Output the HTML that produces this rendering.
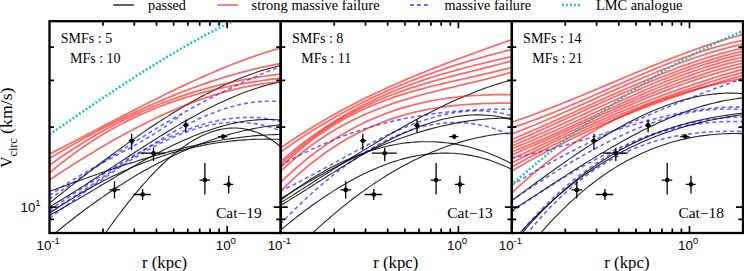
<!DOCTYPE html><html><head><meta charset="utf-8"><style>html,body{margin:0;padding:0;background:#fff;width:744px;height:271px;overflow:hidden}svg{display:block}</style></head><body>
<svg width="744" height="271" viewBox="0 0 744 271">
<rect width="744" height="271" fill="#fff"/>
<clipPath id="c0"><rect x="49.5" y="21.2" width="231.2" height="211.8"/></clipPath>
<clipPath id="c1"><rect x="280.7" y="21.2" width="231.2" height="211.8"/></clipPath>
<clipPath id="c2"><rect x="511.8" y="21.2" width="231.2" height="211.8"/></clipPath>
<g clip-path="url(#c0)">
<path d="M49.5 203.0 L52.5 200.6 L55.5 198.2 L58.5 195.9 L61.5 193.5 L64.5 191.1 L67.5 188.8 L70.5 186.4 L73.5 184.1 L76.5 181.7 L79.5 179.4 L82.5 177.0 L85.5 174.7 L88.5 172.4 L91.5 170.1 L94.5 167.8 L97.5 165.5 L100.5 163.3 L103.5 161.0 L106.5 158.8 L109.5 156.5 L112.5 154.3 L115.5 152.1 L118.5 149.9 L121.5 147.7 L124.5 145.6 L127.5 143.4 L130.5 141.3 L133.5 139.2 L136.5 137.1 L139.5 135.0 L142.5 132.9 L145.5 130.9 L148.5 128.8 L151.5 126.8 L154.5 124.8 L157.5 122.8 L160.5 120.9 L163.5 119.0 L166.5 117.1 L169.5 115.2 L172.5 113.3 L175.5 111.5 L178.5 109.7 L181.5 107.9 L184.5 106.1 L187.5 104.4 L190.5 102.6 L193.5 100.9 L196.5 99.3 L199.5 97.6 L202.5 96.0 L205.5 94.5 L208.5 92.9 L211.5 91.4 L214.5 89.9 L217.5 88.4 L220.5 87.0 L223.5 85.6 L226.5 84.2 L229.5 82.9 L232.5 81.6 L235.5 80.3 L238.5 79.1 L241.5 77.8 L244.5 76.7 L247.5 75.5 L250.5 74.4 L253.5 73.4 L256.5 72.3 L259.5 71.3 L262.5 70.4 L265.5 69.5 L268.5 68.6 L271.5 67.8 L274.5 67.0 L277.5 66.2 L280.5 65.5 L282.0 65.1" stroke="#000" stroke-width="1.1" fill="none" stroke-opacity="0.85"/>
<path d="M49.5 206.9 L52.5 205.1 L55.5 203.3 L58.5 201.5 L61.5 199.7 L64.5 197.9 L67.5 196.0 L70.5 194.2 L73.5 192.3 L76.5 190.4 L79.5 188.5 L82.5 186.6 L85.5 184.6 L88.5 182.7 L91.5 180.8 L94.5 178.8 L97.5 176.9 L100.5 174.9 L103.5 173.0 L106.5 171.0 L109.5 169.0 L112.5 167.1 L115.5 165.1 L118.5 163.1 L121.5 161.1 L124.5 159.2 L127.5 157.2 L130.5 155.2 L133.5 153.3 L136.5 151.3 L139.5 149.4 L142.5 147.5 L145.5 145.5 L148.5 143.6 L151.5 141.7 L154.5 139.8 L157.5 137.9 L160.5 136.0 L163.5 134.2 L166.5 132.3 L169.5 130.5 L172.5 128.7 L175.5 126.9 L178.5 125.1 L181.5 123.3 L184.5 121.6 L187.5 119.9 L190.5 118.2 L193.5 116.5 L196.5 114.9 L199.5 113.2 L202.5 111.6 L205.5 110.1 L208.5 108.5 L211.5 107.0 L214.5 105.5 L217.5 104.0 L220.5 102.6 L223.5 101.2 L226.5 99.9 L229.5 98.5 L232.5 97.2 L235.5 96.0 L238.5 94.7 L241.5 93.6 L244.5 92.4 L247.5 91.3 L250.5 90.2 L253.5 89.2 L256.5 88.2 L259.5 87.3 L262.5 86.4 L265.5 85.5 L268.5 84.7 L271.5 83.9 L274.5 83.2 L277.5 82.5 L280.5 81.9 L282.0 81.6" stroke="#000" stroke-width="1.1" fill="none" stroke-opacity="0.85"/>
<path d="M49.5 191.3 L52.5 190.2 L55.5 189.2 L58.5 188.1 L61.5 187.0 L64.5 185.9 L67.5 184.8 L70.5 183.7 L73.5 182.6 L76.5 181.6 L79.5 180.5 L82.5 179.4 L85.5 178.4 L88.5 177.3 L91.5 176.3 L94.5 175.2 L97.5 174.2 L100.5 173.1 L103.5 172.1 L106.5 171.1 L109.5 170.0 L112.5 169.0 L115.5 168.0 L118.5 167.0 L121.5 166.0 L124.5 165.1 L127.5 164.1 L130.5 163.1 L133.5 162.2 L136.5 161.2 L139.5 160.3 L142.5 159.4 L145.5 158.5 L148.5 157.6 L151.5 156.7 L154.5 155.8 L157.5 155.0 L160.5 154.1 L163.5 153.3 L166.5 152.5 L169.5 151.6 L172.5 150.9 L175.5 150.1 L178.5 149.3 L181.5 148.6 L184.5 147.8 L187.5 147.1 L190.5 146.4 L193.5 145.7 L196.5 145.0 L199.5 144.4 L202.5 143.7 L205.5 143.1 L208.5 142.5 L211.5 141.9 L214.5 141.4 L217.5 140.8 L220.5 140.3 L223.5 139.8 L226.5 139.3 L229.5 138.9 L232.5 138.4 L235.5 138.0 L238.5 137.6 L241.5 137.2 L244.5 136.9 L247.5 136.5 L250.5 136.2 L253.5 135.9 L256.5 135.6 L259.5 135.4 L262.5 135.2 L265.5 135.0 L268.5 134.8 L271.5 134.7 L274.5 134.6 L277.5 134.5 L280.5 134.4 L282.0 134.4" stroke="#000" stroke-width="1.1" fill="none" stroke-opacity="0.85"/>
<path d="M49.5 213.4 L52.5 211.3 L55.5 209.3 L58.5 207.3 L61.5 205.3 L64.5 203.4 L67.5 201.5 L70.5 199.6 L73.5 197.7 L76.5 195.9 L79.5 194.1 L82.5 192.4 L85.5 190.6 L88.5 188.9 L91.5 187.2 L94.5 185.6 L97.5 184.0 L100.5 182.4 L103.5 180.8 L106.5 179.3 L109.5 177.8 L112.5 176.3 L115.5 174.9 L118.5 173.5 L121.5 172.1 L124.5 170.7 L127.5 169.4 L130.5 168.1 L133.5 166.8 L136.5 165.6 L139.5 164.4 L142.5 163.2 L145.5 162.0 L148.5 160.9 L151.5 159.8 L154.5 158.7 L157.5 157.7 L160.5 156.7 L163.5 155.7 L166.5 154.7 L169.5 153.8 L172.5 152.9 L175.5 152.0 L178.5 151.2 L181.5 150.4 L184.5 149.6 L187.5 148.8 L190.5 148.1 L193.5 147.4 L196.5 146.7 L199.5 146.1 L202.5 145.5 L205.5 144.9 L208.5 144.3 L211.5 143.8 L214.5 143.3 L217.5 142.8 L220.5 142.4 L223.5 142.0 L226.5 141.6 L229.5 141.2 L232.5 140.9 L235.5 140.6 L238.5 140.3 L241.5 140.1 L244.5 139.9 L247.5 139.7 L250.5 139.5 L253.5 139.4 L256.5 139.3 L259.5 139.2 L262.5 139.2 L265.5 139.1 L268.5 139.1 L271.5 139.2 L274.5 139.2 L277.5 139.3 L280.5 139.5 L282.0 139.5" stroke="#000" stroke-width="1.1" fill="none" stroke-opacity="0.85"/>
<path d="M49.5 215.4 L52.5 213.7 L55.5 212.1 L58.5 210.4 L61.5 208.7 L64.5 207.0 L67.5 205.3 L70.5 203.6 L73.5 201.8 L76.5 200.1 L79.5 198.3 L82.5 196.5 L85.5 194.8 L88.5 193.0 L91.5 191.2 L94.5 189.4 L97.5 187.6 L100.5 185.8 L103.5 184.0 L106.5 182.3 L109.5 180.5 L112.5 178.7 L115.5 176.9 L118.5 175.1 L121.5 173.4 L124.5 171.6 L127.5 169.9 L130.5 168.1 L133.5 166.4 L136.5 164.7 L139.5 163.0 L142.5 161.3 L145.5 159.6 L148.5 158.0 L151.5 156.4 L154.5 154.8 L157.5 153.2 L160.5 151.6 L163.5 150.0 L166.5 148.5 L169.5 147.0 L172.5 145.6 L175.5 144.1 L178.5 142.7 L181.5 141.3 L184.5 140.0 L187.5 138.7 L190.5 137.4 L193.5 136.1 L196.5 134.9 L199.5 133.7 L202.5 132.6 L205.5 131.5 L208.5 130.4 L211.5 129.4 L214.5 128.4 L217.5 127.5 L220.5 126.6 L223.5 125.8 L226.5 125.0 L229.5 124.2 L232.5 123.5 L235.5 122.9 L238.5 122.3 L241.5 121.8 L244.5 121.3 L247.5 120.8 L250.5 120.5 L253.5 120.2 L256.5 119.9 L259.5 119.7 L262.5 119.6 L265.5 119.5 L268.5 119.5 L271.5 119.5 L274.5 119.7 L277.5 119.8 L280.5 120.1 L282.0 120.2" stroke="#000" stroke-width="1.1" fill="none" stroke-opacity="0.85"/>
<path d="M54.5 233.6 L57.5 231.1 L60.5 228.7 L63.5 226.3 L66.5 223.9 L69.5 221.5 L72.5 219.2 L75.5 216.8 L78.5 214.5 L81.5 212.3 L84.5 210.0 L87.5 207.8 L90.5 205.6 L93.5 203.5 L96.5 201.3 L99.5 199.2 L102.5 197.1 L105.5 195.0 L108.5 193.0 L111.5 191.0 L114.5 189.0 L117.5 187.0 L120.5 185.1 L123.5 183.2 L126.5 181.3 L129.5 179.5 L132.5 177.6 L135.5 175.8 L138.5 174.1 L141.5 172.3 L144.5 170.6 L147.5 168.9 L150.5 167.3 L153.5 165.7 L156.5 164.1 L159.5 162.5 L162.5 160.9 L165.5 159.4 L168.5 157.9 L171.5 156.5 L174.5 155.1 L177.5 153.7 L180.5 152.3 L183.5 151.0 L186.5 149.7 L189.5 148.4 L192.5 147.1 L195.5 145.9 L198.5 144.7 L201.5 143.6 L204.5 142.5 L207.5 141.4 L210.5 140.3 L213.5 139.3 L216.5 138.3 L219.5 137.3 L222.5 136.4 L225.5 135.5 L228.5 134.6 L231.5 133.8 L234.5 133.0 L237.5 132.2 L240.5 131.5 L243.5 130.8 L246.5 130.1 L249.5 129.5 L252.5 128.9 L255.5 128.3 L258.5 127.8 L261.5 127.2 L264.5 126.8 L267.5 126.3 L270.5 125.9 L273.5 125.6 L276.5 125.2 L279.5 124.9 L282.0 124.7" stroke="#000" stroke-width="1.1" fill="none" stroke-opacity="0.85"/>
<path d="M104.3 234.7 L107.3 230.5 L110.3 226.3 L113.3 222.1 L116.3 218.0 L119.3 214.0 L122.3 210.1 L125.3 206.2 L128.3 202.4 L131.3 198.6 L134.3 194.9 L137.3 191.3 L140.3 187.8 L143.3 184.4 L146.3 181.0 L149.3 177.7 L152.3 174.5 L155.3 171.4 L158.3 168.4 L161.3 165.5 L164.3 162.6 L167.3 159.9 L170.3 157.2 L173.3 154.7 L176.3 152.2 L179.3 149.9 L182.3 147.7 L185.3 145.6 L188.3 143.5 L191.3 141.6 L194.3 139.8 L197.3 138.2 L200.3 136.6 L203.3 135.2 L206.3 133.9 L209.3 132.7 L212.3 131.6 L215.3 130.7 L218.3 129.9 L221.3 129.2 L224.3 128.7 L227.3 128.3 L230.3 128.1 L233.3 128.0 L236.3 128.0 L239.3 128.2 L242.3 128.5 L245.3 129.0 L248.3 129.6 L251.3 130.4 L254.3 131.4 L257.3 132.5 L260.3 133.7 L263.3 135.2 L266.3 136.8 L269.3 138.5 L272.3 140.4 L275.3 142.5 L278.3 144.8 L281.3 147.3 L282.0 147.9" stroke="#000" stroke-width="1.1" fill="none" stroke-opacity="0.85"/>
<path d="M49.5 199.2 L52.5 197.0 L55.5 194.9 L58.5 192.8 L61.5 190.7 L64.5 188.6 L67.5 186.5 L70.5 184.5 L73.5 182.4 L76.5 180.3 L79.5 178.2 L82.5 176.2 L85.5 174.2 L88.5 172.1 L91.5 170.1 L94.5 168.1 L97.5 166.1 L100.5 164.0 L103.5 162.1 L106.5 160.1 L109.5 158.1 L112.5 156.1 L115.5 154.2 L118.5 152.2 L121.5 150.3 L124.5 148.4 L127.5 146.4 L130.5 144.5 L133.5 142.6 L136.5 140.7 L139.5 138.9 L142.5 137.0 L145.5 135.2 L148.5 133.3 L151.5 131.5 L154.5 129.7 L157.5 127.9 L160.5 126.1 L163.5 124.3 L166.5 122.5 L169.5 120.8 L172.5 119.0 L175.5 117.3 L178.5 115.6 L181.5 113.9 L184.5 112.2 L187.5 110.5 L190.5 108.9 L193.5 107.2 L196.5 105.6 L199.5 104.0 L202.5 102.4 L205.5 100.8 L208.5 99.2 L211.5 97.7 L214.5 96.1 L217.5 94.6 L220.5 93.1 L223.5 91.6 L226.5 90.1 L229.5 88.7 L232.5 87.2 L235.5 85.8 L238.5 84.4 L241.5 83.0 L244.5 81.6 L247.5 80.3 L250.5 78.9 L253.5 77.6 L256.5 76.3 L259.5 75.0 L262.5 73.8 L265.5 72.5 L268.5 71.3 L271.5 70.1 L274.5 68.9 L277.5 67.7 L280.5 66.6 L282.0 66.0" stroke="#0000ff" stroke-opacity="0.6" stroke-width="1.6" fill="none" stroke-dasharray="4 3"/>
<path d="M49.5 212.1 L52.5 210.3 L55.5 208.4 L58.5 206.6 L61.5 204.7 L64.5 202.8 L67.5 200.9 L70.5 198.9 L73.5 197.0 L76.5 195.0 L79.5 193.0 L82.5 191.1 L85.5 189.0 L88.5 187.0 L91.5 185.0 L94.5 183.0 L97.5 181.0 L100.5 178.9 L103.5 176.9 L106.5 174.9 L109.5 172.8 L112.5 170.8 L115.5 168.7 L118.5 166.7 L121.5 164.7 L124.5 162.7 L127.5 160.7 L130.5 158.7 L133.5 156.7 L136.5 154.7 L139.5 152.8 L142.5 150.8 L145.5 148.9 L148.5 147.0 L151.5 145.1 L154.5 143.2 L157.5 141.4 L160.5 139.6 L163.5 137.8 L166.5 136.0 L169.5 134.2 L172.5 132.5 L175.5 130.8 L178.5 129.2 L181.5 127.6 L184.5 126.0 L187.5 124.4 L190.5 122.9 L193.5 121.4 L196.5 120.0 L199.5 118.6 L202.5 117.3 L205.5 116.0 L208.5 114.7 L211.5 113.5 L214.5 112.3 L217.5 111.2 L220.5 110.1 L223.5 109.1 L226.5 108.2 L229.5 107.3 L232.5 106.4 L235.5 105.6 L238.5 104.9 L241.5 104.2 L244.5 103.6 L247.5 103.1 L250.5 102.6 L253.5 102.2 L256.5 101.9 L259.5 101.6 L262.5 101.4 L265.5 101.2 L268.5 101.2 L271.5 101.2 L274.5 101.3 L277.5 101.4 L280.5 101.7 L282.0 101.8" stroke="#0000ff" stroke-opacity="0.6" stroke-width="1.6" fill="none" stroke-dasharray="4 3"/>
<path d="M49.5 209.9 L52.5 207.9 L55.5 205.9 L58.5 203.9 L61.5 201.9 L64.5 199.9 L67.5 197.9 L70.5 195.9 L73.5 193.9 L76.5 191.9 L79.5 189.9 L82.5 187.9 L85.5 186.0 L88.5 184.0 L91.5 182.0 L94.5 180.0 L97.5 178.1 L100.5 176.1 L103.5 174.2 L106.5 172.3 L109.5 170.4 L112.5 168.5 L115.5 166.6 L118.5 164.8 L121.5 162.9 L124.5 161.1 L127.5 159.3 L130.5 157.6 L133.5 155.8 L136.5 154.1 L139.5 152.4 L142.5 150.7 L145.5 149.1 L148.5 147.4 L151.5 145.9 L154.5 144.3 L157.5 142.8 L160.5 141.3 L163.5 139.8 L166.5 138.4 L169.5 137.0 L172.5 135.7 L175.5 134.3 L178.5 133.1 L181.5 131.8 L184.5 130.7 L187.5 129.5 L190.5 128.4 L193.5 127.4 L196.5 126.3 L199.5 125.4 L202.5 124.5 L205.5 123.6 L208.5 122.8 L211.5 122.0 L214.5 121.3 L217.5 120.7 L220.5 120.1 L223.5 119.5 L226.5 119.0 L229.5 118.6 L232.5 118.3 L235.5 117.9 L238.5 117.7 L241.5 117.5 L244.5 117.4 L247.5 117.4 L250.5 117.4 L253.5 117.5 L256.5 117.6 L259.5 117.8 L262.5 118.1 L265.5 118.5 L268.5 118.9 L271.5 119.4 L274.5 120.0 L277.5 120.7 L280.5 121.4 L282.0 121.8" stroke="#0000ff" stroke-opacity="0.6" stroke-width="1.6" fill="none" stroke-dasharray="4 3"/>
<path d="M49.5 218.2 L52.5 215.9 L55.5 213.7 L58.5 211.4 L61.5 209.2 L64.5 207.0 L67.5 204.7 L70.5 202.5 L73.5 200.3 L76.5 198.0 L79.5 195.8 L82.5 193.6 L85.5 191.4 L88.5 189.2 L91.5 187.0 L94.5 184.9 L97.5 182.7 L100.5 180.6 L103.5 178.5 L106.5 176.4 L109.5 174.3 L112.5 172.2 L115.5 170.2 L118.5 168.2 L121.5 166.2 L124.5 164.3 L127.5 162.3 L130.5 160.4 L133.5 158.6 L136.5 156.7 L139.5 154.9 L142.5 153.1 L145.5 151.4 L148.5 149.7 L151.5 148.0 L154.5 146.4 L157.5 144.8 L160.5 143.3 L163.5 141.8 L166.5 140.4 L169.5 138.9 L172.5 137.6 L175.5 136.3 L178.5 135.0 L181.5 133.8 L184.5 132.7 L187.5 131.5 L190.5 130.5 L193.5 129.5 L196.5 128.6 L199.5 127.7 L202.5 126.9 L205.5 126.1 L208.5 125.4 L211.5 124.8 L214.5 124.2 L217.5 123.7 L220.5 123.3 L223.5 122.9 L226.5 122.7 L229.5 122.4 L232.5 122.3 L235.5 122.2 L238.5 122.2 L241.5 122.3 L244.5 122.5 L247.5 122.7 L250.5 123.0 L253.5 123.4 L256.5 123.9 L259.5 124.5 L262.5 125.1 L265.5 125.9 L268.5 126.7 L271.5 127.6 L274.5 128.6 L277.5 129.7 L280.5 130.9 L282.0 131.6" stroke="#0000ff" stroke-opacity="0.6" stroke-width="1.6" fill="none" stroke-dasharray="4 3"/>
<path d="M49.5 195.6 L52.5 193.4 L55.5 191.3 L58.5 189.2 L61.5 187.2 L64.5 185.2 L67.5 183.3 L70.5 181.4 L73.5 179.5 L76.5 177.7 L79.5 175.9 L82.5 174.1 L85.5 172.4 L88.5 170.7 L91.5 169.0 L94.5 167.3 L97.5 165.6 L100.5 164.0 L103.5 162.4 L106.5 160.7 L109.5 159.1 L112.5 157.5 L115.5 155.9 L118.5 154.3 L121.5 152.6 L124.5 151.0 L127.5 149.4 L130.5 147.7 L133.5 146.0 L136.5 144.4 L139.5 142.6 L142.5 140.9 L145.5 139.1 L148.5 137.3 L151.5 135.5 L154.5 133.6 L157.5 131.7 L160.5 129.8 L163.5 127.8 L166.5 125.8 L169.5 123.7 L172.5 121.6 L175.5 119.4 L178.5 117.1 L181.5 114.8 L182.0 114.4" stroke="#0000ff" stroke-opacity="0.6" stroke-width="1.6" fill="none" stroke-dasharray="4 3"/>
<path d="M49.5 154.0 L52.5 152.5 L55.5 150.9 L58.5 149.4 L61.5 147.9 L64.5 146.3 L67.5 144.8 L70.5 143.2 L73.5 141.7 L76.5 140.1 L79.5 138.5 L82.5 137.0 L85.5 135.4 L88.5 133.9 L91.5 132.3 L94.5 130.7 L97.5 129.1 L100.5 127.6 L103.5 126.0 L106.5 124.4 L109.5 122.9 L112.5 121.3 L115.5 119.7 L118.5 118.2 L121.5 116.6 L124.5 115.1 L127.5 113.5 L130.5 111.9 L133.5 110.4 L136.5 108.9 L139.5 107.3 L142.5 105.8 L145.5 104.3 L148.5 102.7 L151.5 101.2 L154.5 99.7 L157.5 98.2 L160.5 96.7 L163.5 95.3 L166.5 93.8 L169.5 92.3 L172.5 90.9 L175.5 89.4 L178.5 88.0 L181.5 86.6 L184.5 85.1 L187.5 83.7 L190.5 82.3 L193.5 81.0 L196.5 79.6 L199.5 78.2 L202.5 76.9 L205.5 75.6 L208.5 74.3 L211.5 73.0 L214.5 71.7 L217.5 70.4 L220.5 69.2 L223.5 67.9 L226.5 66.7 L229.5 65.5 L232.5 64.3 L235.5 63.1 L238.5 62.0 L241.5 60.9 L244.5 59.7 L247.5 58.7 L250.5 57.6 L253.5 56.5 L256.5 55.5 L259.5 54.5 L262.5 53.5 L265.5 52.5 L268.5 51.6 L271.5 50.6 L274.5 49.7 L277.5 48.9 L280.5 48.0 L282.0 47.6" stroke="#ff0000" stroke-opacity="0.6" stroke-width="1.75" fill="none"/>
<path d="M49.5 158.2 L52.5 156.4 L55.5 154.7 L58.5 152.9 L61.5 151.2 L64.5 149.4 L67.5 147.7 L70.5 146.0 L73.5 144.3 L76.5 142.6 L79.5 140.9 L82.5 139.3 L85.5 137.6 L88.5 136.0 L91.5 134.4 L94.5 132.8 L97.5 131.2 L100.5 129.6 L103.5 128.0 L106.5 126.5 L109.5 124.9 L112.5 123.4 L115.5 121.9 L118.5 120.4 L121.5 118.9 L124.5 117.4 L127.5 115.9 L130.5 114.5 L133.5 113.1 L136.5 111.6 L139.5 110.2 L142.5 108.9 L145.5 107.5 L148.5 106.1 L151.5 104.8 L154.5 103.5 L157.5 102.2 L160.5 100.9 L163.5 99.6 L166.5 98.3 L169.5 97.1 L172.5 95.9 L175.5 94.6 L178.5 93.4 L181.5 92.3 L184.5 91.1 L187.5 90.0 L190.5 88.8 L193.5 87.7 L196.5 86.6 L199.5 85.5 L202.5 84.5 L205.5 83.4 L208.5 82.4 L211.5 81.4 L214.5 80.4 L217.5 79.5 L220.5 78.5 L223.5 77.6 L226.5 76.7 L229.5 75.8 L232.5 74.9 L235.5 74.0 L238.5 73.2 L241.5 72.4 L244.5 71.6 L247.5 70.8 L250.5 70.1 L253.5 69.3 L256.5 68.6 L259.5 67.9 L262.5 67.2 L265.5 66.6 L268.5 65.9 L271.5 65.3 L274.5 64.7 L277.5 64.1 L280.5 63.6 L282.0 63.3" stroke="#ff0000" stroke-opacity="0.6" stroke-width="1.75" fill="none"/>
<path d="M49.5 165.3 L52.5 163.1 L55.5 161.0 L58.5 158.9 L61.5 156.8 L64.5 154.8 L67.5 152.7 L70.5 150.7 L73.5 148.8 L76.5 146.8 L79.5 144.9 L82.5 143.1 L85.5 141.2 L88.5 139.4 L91.5 137.6 L94.5 135.8 L97.5 134.1 L100.5 132.4 L103.5 130.7 L106.5 129.1 L109.5 127.4 L112.5 125.8 L115.5 124.3 L118.5 122.7 L121.5 121.2 L124.5 119.7 L127.5 118.2 L130.5 116.8 L133.5 115.4 L136.5 114.0 L139.5 112.6 L142.5 111.3 L145.5 110.0 L148.5 108.7 L151.5 107.4 L154.5 106.2 L157.5 105.0 L160.5 103.8 L163.5 102.6 L166.5 101.5 L169.5 100.4 L172.5 99.3 L175.5 98.2 L178.5 97.1 L181.5 96.1 L184.5 95.1 L187.5 94.1 L190.5 93.2 L193.5 92.2 L196.5 91.3 L199.5 90.4 L202.5 89.6 L205.5 88.7 L208.5 87.9 L211.5 87.1 L214.5 86.3 L217.5 85.5 L220.5 84.8 L223.5 84.1 L226.5 83.4 L229.5 82.7 L232.5 82.0 L235.5 81.4 L238.5 80.8 L241.5 80.2 L244.5 79.6 L247.5 79.0 L250.5 78.5 L253.5 77.9 L256.5 77.4 L259.5 76.9 L262.5 76.5 L265.5 76.0 L268.5 75.6 L271.5 75.2 L274.5 74.8 L277.5 74.4 L280.5 74.0 L282.0 73.8" stroke="#ff0000" stroke-opacity="0.6" stroke-width="1.75" fill="none"/>
<path d="M49.5 172.8 L52.5 170.3 L55.5 167.8 L58.5 165.4 L61.5 163.0 L64.5 160.7 L67.5 158.4 L70.5 156.1 L73.5 153.9 L76.5 151.7 L79.5 149.6 L82.5 147.5 L85.5 145.5 L88.5 143.5 L91.5 141.5 L94.5 139.6 L97.5 137.7 L100.5 135.8 L103.5 134.0 L106.5 132.3 L109.5 130.5 L112.5 128.8 L115.5 127.2 L118.5 125.5 L121.5 124.0 L124.5 122.4 L127.5 120.9 L130.5 119.4 L133.5 117.9 L136.5 116.5 L139.5 115.1 L142.5 113.8 L145.5 112.5 L148.5 111.2 L151.5 109.9 L154.5 108.7 L157.5 107.5 L160.5 106.3 L163.5 105.1 L166.5 104.0 L169.5 102.9 L172.5 101.9 L175.5 100.9 L178.5 99.8 L181.5 98.9 L184.5 97.9 L187.5 97.0 L190.5 96.1 L193.5 95.2 L196.5 94.3 L199.5 93.5 L202.5 92.7 L205.5 91.9 L208.5 91.1 L211.5 90.4 L214.5 89.7 L217.5 89.0 L220.5 88.3 L223.5 87.6 L226.5 87.0 L229.5 86.3 L232.5 85.7 L235.5 85.1 L238.5 84.6 L241.5 84.0 L244.5 83.5 L247.5 82.9 L250.5 82.4 L253.5 81.9 L256.5 81.4 L259.5 81.0 L262.5 80.5 L265.5 80.1 L268.5 79.7 L271.5 79.2 L274.5 78.8 L277.5 78.4 L280.5 78.1 L282.0 77.9" stroke="#ff0000" stroke-opacity="0.6" stroke-width="1.75" fill="none"/>
<path d="M49.5 180.0 L52.5 178.0 L55.5 176.0 L58.5 174.0 L61.5 172.1 L64.5 170.1 L67.5 168.2 L70.5 166.3 L73.5 164.3 L76.5 162.4 L79.5 160.6 L82.5 158.7 L85.5 156.8 L88.5 155.0 L91.5 153.2 L94.5 151.4 L97.5 149.6 L100.5 147.8 L103.5 146.0 L106.5 144.3 L109.5 142.5 L112.5 140.8 L115.5 139.1 L118.5 137.4 L121.5 135.8 L124.5 134.1 L127.5 132.5 L130.5 130.9 L133.5 129.3 L136.5 127.7 L139.5 126.2 L142.5 124.7 L145.5 123.2 L148.5 121.7 L151.5 120.2 L154.5 118.8 L157.5 117.3 L160.5 115.9 L163.5 114.6 L166.5 113.2 L169.5 111.9 L172.5 110.6 L175.5 109.3 L178.5 108.0 L181.5 106.8 L184.5 105.6 L187.5 104.4 L190.5 103.2 L193.5 102.1 L196.5 101.0 L199.5 99.9 L202.5 98.9 L205.5 97.8 L208.5 96.8 L211.5 95.8 L214.5 94.9 L217.5 94.0 L220.5 93.1 L223.5 92.2 L226.5 91.4 L229.5 90.6 L232.5 89.8 L235.5 89.1 L238.5 88.4 L241.5 87.7 L244.5 87.1 L247.5 86.5 L250.5 85.9 L253.5 85.3 L256.5 84.8 L259.5 84.3 L262.5 83.9 L265.5 83.5 L268.5 83.1 L271.5 82.7 L274.5 82.4 L277.5 82.1 L280.5 81.9 L282.0 81.8" stroke="#ff0000" stroke-opacity="0.6" stroke-width="1.75" fill="none"/>
<path d="M49.5 134.5 L52.5 132.5 L55.5 130.4 L58.5 128.3 L61.5 126.2 L64.5 124.2 L67.5 122.1 L70.5 120.0 L73.5 118.0 L76.5 115.9 L79.5 113.9 L82.5 111.8 L85.5 109.8 L88.5 107.7 L91.5 105.7 L94.5 103.7 L97.5 101.6 L100.5 99.6 L103.5 97.6 L106.5 95.6 L109.5 93.6 L112.5 91.6 L115.5 89.6 L118.5 87.6 L121.5 85.7 L124.5 83.7 L127.5 81.7 L130.5 79.8 L133.5 77.9 L136.5 75.9 L139.5 74.0 L142.5 72.1 L145.5 70.2 L148.5 68.3 L151.5 66.5 L154.5 64.6 L157.5 62.7 L160.5 60.9 L163.5 59.1 L166.5 57.3 L169.5 55.5 L172.5 53.7 L175.5 51.9 L178.5 50.2 L181.5 48.4 L184.5 46.7 L187.5 45.0 L190.5 43.3 L193.5 41.6 L196.5 39.9 L199.5 38.3 L202.5 36.7 L205.5 35.0 L208.5 33.5 L211.5 31.9 L214.5 30.3 L217.5 28.8 L220.5 27.3 L223.5 25.8 L226.5 24.3 L229.5 22.8 L232.5 21.4 L233.0 21.1" stroke="#14bebe" stroke-width="2.6" fill="none" stroke-dasharray="1.8 2.2"/>
<path d="M128.7 140.7 H135.2 M131.6 133.8 V150.0" stroke="#000" stroke-width="1.3" fill="none"/>
<circle cx="131.6" cy="140.7" r="2.3" fill="#000"/>
<path d="M140.7 153.2 H165.6 M153.5 147.7 V161.0" stroke="#000" stroke-width="1.3" fill="none"/>
<circle cx="153.5" cy="153.2" r="2.3" fill="#000"/>
<path d="M183.0 125.3 H188.6 M185.8 119.5 V132.5" stroke="#000" stroke-width="1.3" fill="none"/>
<circle cx="185.8" cy="125.3" r="2.3" fill="#000"/>
<path d="M218.0 136.6 H227.2 M223.0 134.4 V139.0" stroke="#000" stroke-width="1.3" fill="none"/>
<circle cx="223.0" cy="136.6" r="2.3" fill="#000"/>
<path d="M199.5 180.1 H210.0 M204.9 163.0 V194.5" stroke="#000" stroke-width="1.3" fill="none"/>
<circle cx="204.9" cy="180.1" r="2.3" fill="#000"/>
<path d="M223.5 184.4 H233.3 M228.7 175.7 V193.6" stroke="#000" stroke-width="1.3" fill="none"/>
<circle cx="228.7" cy="184.4" r="2.3" fill="#000"/>
<path d="M109.4 189.9 H119.9 M114.5 181.2 V198.6" stroke="#000" stroke-width="1.3" fill="none"/>
<circle cx="114.5" cy="189.9" r="2.3" fill="#000"/>
<path d="M133.4 194.5 H150.9 M142.6 189.0 V200.0" stroke="#000" stroke-width="1.3" fill="none"/>
<circle cx="142.6" cy="194.5" r="2.3" fill="#000"/>
</g>
<g clip-path="url(#c1)">
<path d="M280.0 203.1 L283.0 201.2 L286.0 199.4 L289.0 197.5 L292.0 195.6 L295.0 193.7 L298.0 191.8 L301.0 189.9 L304.0 188.0 L307.0 186.1 L310.0 184.2 L313.0 182.3 L316.0 180.3 L319.0 178.4 L322.0 176.5 L325.0 174.6 L328.0 172.7 L331.0 170.8 L334.0 168.9 L337.0 167.0 L340.0 165.1 L343.0 163.2 L346.0 161.3 L349.0 159.4 L352.0 157.5 L355.0 155.7 L358.0 153.8 L361.0 151.9 L364.0 150.1 L367.0 148.2 L370.0 146.4 L373.0 144.6 L376.0 142.8 L379.0 141.0 L382.0 139.2 L385.0 137.4 L388.0 135.6 L391.0 133.8 L394.0 132.1 L397.0 130.4 L400.0 128.7 L403.0 127.0 L406.0 125.3 L409.0 123.6 L412.0 121.9 L415.0 120.3 L418.0 118.7 L421.0 117.1 L424.0 115.5 L427.0 113.9 L430.0 112.4 L433.0 110.9 L436.0 109.4 L439.0 107.9 L442.0 106.4 L445.0 105.0 L448.0 103.6 L451.0 102.2 L454.0 100.8 L457.0 99.5 L460.0 98.2 L463.0 96.9 L466.0 95.6 L469.0 94.4 L472.0 93.2 L475.0 92.0 L478.0 90.8 L481.0 89.7 L484.0 88.6 L487.0 87.6 L490.0 86.5 L493.0 85.5 L496.0 84.5 L499.0 83.6 L502.0 82.7 L505.0 81.8 L508.0 81.0 L511.0 80.2 L513.0 79.7" stroke="#000" stroke-width="1.1" fill="none" stroke-opacity="0.85"/>
<path d="M280.0 205.8 L283.0 204.0 L286.0 202.2 L289.0 200.4 L292.0 198.5 L295.0 196.6 L298.0 194.8 L301.0 192.9 L304.0 191.0 L307.0 189.1 L310.0 187.2 L313.0 185.3 L316.0 183.4 L319.0 181.5 L322.0 179.6 L325.0 177.7 L328.0 175.8 L331.0 173.9 L334.0 172.1 L337.0 170.2 L340.0 168.3 L343.0 166.5 L346.0 164.6 L349.0 162.8 L352.0 161.0 L355.0 159.2 L358.0 157.4 L361.0 155.6 L364.0 153.9 L367.0 152.1 L370.0 150.4 L373.0 148.7 L376.0 147.1 L379.0 145.4 L382.0 143.8 L385.0 142.3 L388.0 140.7 L391.0 139.2 L394.0 137.7 L397.0 136.3 L400.0 134.9 L403.0 133.5 L406.0 132.2 L409.0 130.9 L412.0 129.6 L415.0 128.4 L418.0 127.2 L421.0 126.1 L424.0 125.0 L427.0 124.0 L430.0 123.0 L433.0 122.0 L436.0 121.2 L439.0 120.3 L442.0 119.5 L445.0 118.8 L448.0 118.2 L451.0 117.5 L454.0 117.0 L457.0 116.5 L460.0 116.1 L463.0 115.7 L466.0 115.4 L469.0 115.2 L472.0 115.0 L475.0 114.9 L478.0 114.9 L481.0 114.9 L484.0 115.1 L487.0 115.2 L490.0 115.5 L493.0 115.8 L496.0 116.3 L499.0 116.8 L502.0 117.3 L505.0 118.0 L508.0 118.7 L511.0 119.6 L513.0 120.2" stroke="#000" stroke-width="1.1" fill="none" stroke-opacity="0.85"/>
<path d="M280.0 200.8 L283.0 198.5 L286.0 196.3 L289.0 194.0 L292.0 191.9 L295.0 189.7 L298.0 187.6 L301.0 185.6 L304.0 183.6 L307.0 181.6 L310.0 179.7 L313.0 177.8 L316.0 176.0 L319.0 174.2 L322.0 172.4 L325.0 170.7 L328.0 169.1 L331.0 167.5 L334.0 165.9 L337.0 164.4 L340.0 163.0 L343.0 161.5 L346.0 160.2 L349.0 158.9 L352.0 157.6 L355.0 156.3 L358.0 155.2 L361.0 154.0 L364.0 152.9 L367.0 151.9 L370.0 150.9 L373.0 150.0 L376.0 149.1 L379.0 148.3 L382.0 147.5 L385.0 146.7 L388.0 146.0 L391.0 145.4 L394.0 144.8 L397.0 144.3 L400.0 143.8 L403.0 143.3 L406.0 142.9 L409.0 142.6 L412.0 142.3 L415.0 142.1 L418.0 141.9 L421.0 141.8 L424.0 141.7 L427.0 141.7 L430.0 141.7 L433.0 141.8 L436.0 141.9 L439.0 142.1 L442.0 142.4 L445.0 142.7 L448.0 143.0 L451.0 143.4 L454.0 143.9 L457.0 144.4 L460.0 145.0 L463.0 145.6 L466.0 146.3 L469.0 147.0 L472.0 147.8 L475.0 148.7 L478.0 149.6 L481.0 150.5 L484.0 151.6 L487.0 152.6 L490.0 153.8 L493.0 155.0 L496.0 156.2 L499.0 157.5 L502.0 158.9 L505.0 160.3 L508.0 161.8 L511.0 163.4 L513.0 164.4" stroke="#000" stroke-width="1.1" fill="none" stroke-opacity="0.85"/>
<path d="M280.0 230.5 L283.0 228.0 L286.0 225.6 L289.0 223.1 L292.0 220.7 L295.0 218.4 L298.0 216.0 L301.0 213.7 L304.0 211.4 L307.0 209.2 L310.0 207.0 L313.0 204.8 L316.0 202.7 L319.0 200.6 L322.0 198.5 L325.0 196.5 L328.0 194.5 L331.0 192.6 L334.0 190.6 L337.0 188.8 L340.0 186.9 L343.0 185.2 L346.0 183.4 L349.0 181.7 L352.0 180.0 L355.0 178.4 L358.0 176.8 L361.0 175.3 L364.0 173.8 L367.0 172.4 L370.0 171.0 L373.0 169.7 L376.0 168.4 L379.0 167.1 L382.0 165.9 L385.0 164.8 L388.0 163.7 L391.0 162.6 L394.0 161.6 L397.0 160.7 L400.0 159.8 L403.0 158.9 L406.0 158.1 L409.0 157.4 L412.0 156.7 L415.0 156.1 L418.0 155.5 L421.0 155.0 L424.0 154.6 L427.0 154.2 L430.0 153.9 L433.0 153.6 L436.0 153.4 L439.0 153.2 L442.0 153.1 L445.0 153.1 L448.0 153.1 L451.0 153.2 L454.0 153.3 L457.0 153.6 L460.0 153.8 L463.0 154.2 L466.0 154.6 L469.0 155.1 L472.0 155.6 L475.0 156.2 L478.0 156.9 L481.0 157.7 L484.0 158.5 L487.0 159.4 L490.0 160.3 L493.0 161.4 L496.0 162.5 L499.0 163.7 L502.0 164.9 L505.0 166.2 L508.0 167.6 L511.0 169.1 L513.0 170.1" stroke="#000" stroke-width="1.1" fill="none" stroke-opacity="0.85"/>
<path d="M312.0 233.7 L315.0 230.9 L318.0 228.1 L321.0 225.4 L324.0 222.7 L327.0 220.1 L330.0 217.5 L333.0 214.9 L336.0 212.4 L339.0 209.9 L342.0 207.4 L345.0 205.0 L348.0 202.6 L351.0 200.3 L354.0 198.0 L357.0 195.8 L360.0 193.5 L363.0 191.4 L366.0 189.2 L369.0 187.1 L372.0 185.1 L375.0 183.0 L378.0 181.1 L381.0 179.1 L384.0 177.2 L387.0 175.3 L390.0 173.5 L393.0 171.7 L396.0 170.0 L399.0 168.3 L402.0 166.6 L405.0 165.0 L408.0 163.4 L411.0 161.8 L414.0 160.3 L417.0 158.9 L420.0 157.4 L423.0 156.0 L426.0 154.7 L429.0 153.4 L432.0 152.1 L435.0 150.9 L438.0 149.7 L441.0 148.5 L444.0 147.4 L447.0 146.3 L450.0 145.3 L453.0 144.3 L456.0 143.4 L459.0 142.4 L462.0 141.6 L465.0 140.7 L468.0 139.9 L471.0 139.2 L474.0 138.5 L477.0 137.8 L480.0 137.2 L483.0 136.6 L486.0 136.0 L489.0 135.5 L492.0 135.0 L495.0 134.6 L498.0 134.2 L501.0 133.8 L504.0 133.5 L507.0 133.3 L510.0 133.0 L513.0 132.8" stroke="#000" stroke-width="1.1" fill="none" stroke-opacity="0.85"/>
<path d="M280.0 199.2 L283.0 197.3 L286.0 195.4 L289.0 193.6 L292.0 191.8 L295.0 189.9 L298.0 188.1 L301.0 186.4 L304.0 184.6 L307.0 182.8 L310.0 181.1 L313.0 179.4 L316.0 177.7 L319.0 176.0 L322.0 174.4 L325.0 172.7 L328.0 171.1 L331.0 169.5 L334.0 167.9 L337.0 166.3 L340.0 164.8 L343.0 163.3 L346.0 161.8 L349.0 160.3 L352.0 158.8 L355.0 157.4 L358.0 156.0 L361.0 154.6 L364.0 153.2 L367.0 151.9 L370.0 150.5 L373.0 149.2 L376.0 147.9 L379.0 146.7 L382.0 145.4 L385.0 144.2 L388.0 143.0 L391.0 141.9 L394.0 140.7 L397.0 139.6 L400.0 138.5 L403.0 137.5 L406.0 136.4 L409.0 135.4 L412.0 134.4 L415.0 133.5 L418.0 132.5 L421.0 131.6 L424.0 130.7 L427.0 129.9 L430.0 129.1 L433.0 128.3 L436.0 127.5 L439.0 126.8 L442.0 126.0 L445.0 125.4 L448.0 124.7 L451.0 124.1 L454.0 123.5 L457.0 122.9 L460.0 122.4 L463.0 121.9 L466.0 121.4 L469.0 120.9 L472.0 120.5 L475.0 120.1 L478.0 119.8 L481.0 119.5 L484.0 119.2 L487.0 118.9 L490.0 118.7 L493.0 118.5 L496.0 118.4 L499.0 118.2 L502.0 118.1 L505.0 118.1 L508.0 118.1 L511.0 118.1 L513.0 118.1" stroke="#000" stroke-width="1.1" fill="none" stroke-opacity="0.85"/>
<path d="M280.0 165.8 L283.0 164.1 L286.0 162.4 L289.0 160.8 L292.0 159.2 L295.0 157.6 L298.0 156.0 L301.0 154.5 L304.0 153.0 L307.0 151.6 L310.0 150.1 L313.0 148.7 L316.0 147.3 L319.0 146.0 L322.0 144.7 L325.0 143.4 L328.0 142.1 L331.0 140.9 L334.0 139.7 L337.0 138.5 L340.0 137.3 L343.0 136.2 L346.0 135.1 L349.0 134.0 L352.0 133.0 L355.0 131.9 L358.0 130.9 L361.0 130.0 L364.0 129.0 L367.0 128.1 L370.0 127.2 L373.0 126.3 L376.0 125.5 L379.0 124.7 L382.0 123.9 L385.0 123.1 L388.0 122.3 L391.0 121.6 L394.0 120.9 L397.0 120.2 L400.0 119.6 L403.0 118.9 L406.0 118.3 L409.0 117.7 L412.0 117.2 L415.0 116.6 L418.0 116.1 L421.0 115.6 L424.0 115.1 L427.0 114.6 L430.0 114.2 L433.0 113.8 L436.0 113.4 L439.0 113.0 L442.0 112.6 L445.0 112.3 L448.0 112.0 L451.0 111.7 L454.0 111.4 L457.0 111.1 L460.0 110.9 L463.0 110.6 L466.0 110.4 L469.0 110.2 L472.0 110.1 L475.0 109.9 L478.0 109.8 L481.0 109.7 L484.0 109.6 L487.0 109.5 L490.0 109.4 L493.0 109.4 L496.0 109.3 L499.0 109.3 L502.0 109.3 L505.0 109.3 L508.0 109.3 L511.0 109.4 L513.0 109.4" stroke="#0000ff" stroke-opacity="0.6" stroke-width="1.6" fill="none" stroke-dasharray="4 3"/>
<path d="M280.0 191.4 L283.0 189.9 L286.0 188.5 L289.0 187.0 L292.0 185.5 L295.0 184.0 L298.0 182.4 L301.0 180.9 L304.0 179.3 L307.0 177.7 L310.0 176.1 L313.0 174.5 L316.0 172.9 L319.0 171.2 L322.0 169.6 L325.0 168.0 L328.0 166.3 L331.0 164.7 L334.0 163.0 L337.0 161.4 L340.0 159.7 L343.0 158.1 L346.0 156.5 L349.0 154.8 L352.0 153.2 L355.0 151.6 L358.0 150.0 L361.0 148.4 L364.0 146.8 L367.0 145.3 L370.0 143.7 L373.0 142.2 L376.0 140.7 L379.0 139.2 L382.0 137.7 L385.0 136.3 L388.0 134.8 L391.0 133.4 L394.0 132.1 L397.0 130.7 L400.0 129.4 L403.0 128.2 L406.0 126.9 L409.0 125.7 L412.0 124.5 L415.0 123.4 L418.0 122.3 L421.0 121.2 L424.0 120.2 L427.0 119.3 L430.0 118.3 L433.0 117.5 L436.0 116.6 L439.0 115.8 L442.0 115.1 L445.0 114.4 L448.0 113.8 L451.0 113.2 L454.0 112.7 L457.0 112.3 L460.0 111.9 L463.0 111.5 L466.0 111.3 L469.0 111.0 L472.0 110.9 L475.0 110.8 L478.0 110.8 L481.0 110.8 L484.0 111.0 L487.0 111.2 L490.0 111.4 L493.0 111.8 L496.0 112.2 L499.0 112.7 L502.0 113.3 L505.0 113.9 L508.0 114.7 L511.0 115.5 L513.0 116.1" stroke="#0000ff" stroke-opacity="0.6" stroke-width="1.6" fill="none" stroke-dasharray="4 3"/>
<path d="M280.0 224.4 L283.0 221.3 L286.0 218.2 L289.0 215.1 L292.0 212.1 L295.0 209.2 L298.0 206.3 L301.0 203.4 L304.0 200.5 L307.0 197.7 L310.0 195.0 L313.0 192.2 L316.0 189.6 L319.0 186.9 L322.0 184.3 L325.0 181.8 L328.0 179.3 L331.0 176.8 L334.0 174.4 L337.0 172.0 L340.0 169.7 L343.0 167.4 L346.0 165.2 L349.0 163.0 L352.0 160.9 L355.0 158.8 L358.0 156.8 L361.0 154.8 L364.0 152.9 L367.0 151.0 L370.0 149.2 L373.0 147.5 L376.0 145.8 L379.0 144.1 L382.0 142.5 L385.0 141.0 L388.0 139.5 L391.0 138.0 L394.0 136.7 L397.0 135.4 L400.0 134.1 L403.0 132.9 L406.0 131.8 L409.0 130.7 L412.0 129.7 L415.0 128.8 L418.0 127.9 L421.0 127.1 L424.0 126.3 L427.0 125.7 L430.0 125.0 L433.0 124.5 L436.0 124.0 L439.0 123.6 L442.0 123.2 L445.0 122.9 L448.0 122.7 L451.0 122.6 L454.0 122.5 L457.0 122.5 L460.0 122.6 L463.0 122.7 L466.0 123.0 L469.0 123.2 L472.0 123.6 L475.0 124.1 L478.0 124.6 L481.0 125.2 L484.0 125.8 L487.0 126.6 L490.0 127.4 L493.0 128.3 L496.0 129.3 L499.0 130.4 L502.0 131.5 L505.0 132.7 L508.0 134.0 L511.0 135.4 L513.0 136.4" stroke="#0000ff" stroke-opacity="0.6" stroke-width="1.6" fill="none" stroke-dasharray="4 3"/>
<path d="M280.0 148.5 L283.0 146.4 L286.0 144.3 L289.0 142.3 L292.0 140.3 L295.0 138.3 L298.0 136.3 L301.0 134.3 L304.0 132.4 L307.0 130.5 L310.0 128.7 L313.0 126.8 L316.0 125.0 L319.0 123.2 L322.0 121.4 L325.0 119.7 L328.0 118.0 L331.0 116.3 L334.0 114.6 L337.0 112.9 L340.0 111.3 L343.0 109.6 L346.0 108.0 L349.0 106.5 L352.0 104.9 L355.0 103.3 L358.0 101.8 L361.0 100.3 L364.0 98.8 L367.0 97.3 L370.0 95.9 L373.0 94.5 L376.0 93.0 L379.0 91.6 L382.0 90.2 L385.0 88.9 L388.0 87.5 L391.0 86.1 L394.0 84.8 L397.0 83.5 L400.0 82.2 L403.0 80.9 L406.0 79.6 L409.0 78.3 L412.0 77.1 L415.0 75.8 L418.0 74.6 L421.0 73.4 L424.0 72.2 L427.0 71.0 L430.0 69.8 L433.0 68.6 L436.0 67.4 L439.0 66.3 L442.0 65.1 L445.0 63.9 L448.0 62.8 L451.0 61.7 L454.0 60.5 L457.0 59.4 L460.0 58.3 L463.0 57.2 L466.0 56.1 L469.0 55.0 L472.0 53.9 L475.0 52.8 L478.0 51.7 L481.0 50.6 L484.0 49.5 L487.0 48.4 L490.0 47.3 L493.0 46.3 L496.0 45.2 L499.0 44.1 L502.0 43.0 L505.0 42.0 L508.0 40.9 L511.0 39.8 L513.0 39.1" stroke="#ff0000" stroke-opacity="0.6" stroke-width="1.75" fill="none"/>
<path d="M280.0 152.6 L283.0 150.4 L286.0 148.3 L289.0 146.2 L292.0 144.1 L295.0 142.0 L298.0 140.0 L301.0 138.0 L304.0 136.0 L307.0 134.1 L310.0 132.2 L313.0 130.3 L316.0 128.4 L319.0 126.6 L322.0 124.7 L325.0 122.9 L328.0 121.2 L331.0 119.4 L334.0 117.7 L337.0 116.0 L340.0 114.3 L343.0 112.7 L346.0 111.1 L349.0 109.5 L352.0 107.9 L355.0 106.3 L358.0 104.8 L361.0 103.3 L364.0 101.8 L367.0 100.3 L370.0 98.8 L373.0 97.4 L376.0 96.0 L379.0 94.6 L382.0 93.2 L385.0 91.9 L388.0 90.5 L391.0 89.2 L394.0 87.9 L397.0 86.7 L400.0 85.4 L403.0 84.2 L406.0 83.0 L409.0 81.8 L412.0 80.6 L415.0 79.4 L418.0 78.3 L421.0 77.1 L424.0 76.0 L427.0 74.9 L430.0 73.8 L433.0 72.8 L436.0 71.7 L439.0 70.7 L442.0 69.6 L445.0 68.6 L448.0 67.6 L451.0 66.7 L454.0 65.7 L457.0 64.7 L460.0 63.8 L463.0 62.9 L466.0 62.0 L469.0 61.1 L472.0 60.2 L475.0 59.3 L478.0 58.5 L481.0 57.6 L484.0 56.8 L487.0 55.9 L490.0 55.1 L493.0 54.3 L496.0 53.5 L499.0 52.7 L502.0 52.0 L505.0 51.2 L508.0 50.4 L511.0 49.7 L513.0 49.2" stroke="#ff0000" stroke-opacity="0.6" stroke-width="1.75" fill="none"/>
<path d="M280.0 162.0 L283.0 159.4 L286.0 156.8 L289.0 154.3 L292.0 151.8 L295.0 149.4 L298.0 147.0 L301.0 144.6 L304.0 142.3 L307.0 140.1 L310.0 137.9 L313.0 135.7 L316.0 133.6 L319.0 131.5 L322.0 129.5 L325.0 127.4 L328.0 125.5 L331.0 123.6 L334.0 121.7 L337.0 119.8 L340.0 118.0 L343.0 116.2 L346.0 114.5 L349.0 112.8 L352.0 111.1 L355.0 109.5 L358.0 107.9 L361.0 106.3 L364.0 104.8 L367.0 103.3 L370.0 101.8 L373.0 100.3 L376.0 98.9 L379.0 97.5 L382.0 96.2 L385.0 94.9 L388.0 93.6 L391.0 92.3 L394.0 91.0 L397.0 89.8 L400.0 88.6 L403.0 87.5 L406.0 86.3 L409.0 85.2 L412.0 84.1 L415.0 83.0 L418.0 82.0 L421.0 80.9 L424.0 79.9 L427.0 78.9 L430.0 77.9 L433.0 77.0 L436.0 76.0 L439.0 75.1 L442.0 74.2 L445.0 73.3 L448.0 72.5 L451.0 71.6 L454.0 70.8 L457.0 69.9 L460.0 69.1 L463.0 68.3 L466.0 67.5 L469.0 66.8 L472.0 66.0 L475.0 65.2 L478.0 64.5 L481.0 63.8 L484.0 63.0 L487.0 62.3 L490.0 61.6 L493.0 60.9 L496.0 60.2 L499.0 59.5 L502.0 58.8 L505.0 58.1 L508.0 57.4 L511.0 56.8 L513.0 56.3" stroke="#ff0000" stroke-opacity="0.6" stroke-width="1.75" fill="none"/>
<path d="M280.0 165.0 L283.0 162.2 L286.0 159.4 L289.0 156.8 L292.0 154.1 L295.0 151.6 L298.0 149.1 L301.0 146.6 L304.0 144.2 L307.0 141.9 L310.0 139.6 L313.0 137.4 L316.0 135.2 L319.0 133.0 L322.0 131.0 L325.0 129.0 L328.0 127.0 L331.0 125.1 L334.0 123.2 L337.0 121.3 L340.0 119.6 L343.0 117.8 L346.0 116.1 L349.0 114.5 L352.0 112.8 L355.0 111.3 L358.0 109.7 L361.0 108.2 L364.0 106.8 L367.0 105.3 L370.0 104.0 L373.0 102.6 L376.0 101.3 L379.0 100.0 L382.0 98.8 L385.0 97.5 L388.0 96.3 L391.0 95.2 L394.0 94.0 L397.0 92.9 L400.0 91.8 L403.0 90.8 L406.0 89.7 L409.0 88.7 L412.0 87.7 L415.0 86.8 L418.0 85.8 L421.0 84.9 L424.0 84.0 L427.0 83.1 L430.0 82.2 L433.0 81.3 L436.0 80.5 L439.0 79.7 L442.0 78.8 L445.0 78.0 L448.0 77.2 L451.0 76.4 L454.0 75.7 L457.0 74.9 L460.0 74.1 L463.0 73.3 L466.0 72.6 L469.0 71.8 L472.0 71.1 L475.0 70.3 L478.0 69.6 L481.0 68.8 L484.0 68.1 L487.0 67.3 L490.0 66.6 L493.0 65.8 L496.0 65.0 L499.0 64.3 L502.0 63.5 L505.0 62.7 L508.0 61.9 L511.0 61.1 L513.0 60.5" stroke="#ff0000" stroke-opacity="0.6" stroke-width="1.75" fill="none"/>
<path d="M280.0 168.0 L283.0 165.1 L286.0 162.2 L289.0 159.4 L292.0 156.6 L295.0 154.0 L298.0 151.4 L301.0 148.8 L304.0 146.4 L307.0 144.0 L310.0 141.6 L313.0 139.3 L316.0 137.1 L319.0 135.0 L322.0 132.9 L325.0 130.9 L328.0 128.9 L331.0 127.0 L334.0 125.1 L337.0 123.3 L340.0 121.5 L343.0 119.8 L346.0 118.1 L349.0 116.5 L352.0 114.9 L355.0 113.4 L358.0 111.9 L361.0 110.5 L364.0 109.1 L367.0 107.8 L370.0 106.4 L373.0 105.2 L376.0 103.9 L379.0 102.7 L382.0 101.6 L385.0 100.4 L388.0 99.3 L391.0 98.3 L394.0 97.2 L397.0 96.2 L400.0 95.2 L403.0 94.3 L406.0 93.4 L409.0 92.5 L412.0 91.6 L415.0 90.7 L418.0 89.9 L421.0 89.1 L424.0 88.3 L427.0 87.5 L430.0 86.7 L433.0 86.0 L436.0 85.2 L439.0 84.5 L442.0 83.8 L445.0 83.1 L448.0 82.4 L451.0 81.7 L454.0 81.0 L457.0 80.3 L460.0 79.6 L463.0 79.0 L466.0 78.3 L469.0 77.6 L472.0 76.9 L475.0 76.3 L478.0 75.6 L481.0 74.9 L484.0 74.2 L487.0 73.5 L490.0 72.8 L493.0 72.1 L496.0 71.4 L499.0 70.6 L502.0 69.9 L505.0 69.1 L508.0 68.3 L511.0 67.6 L513.0 67.0" stroke="#ff0000" stroke-opacity="0.6" stroke-width="1.75" fill="none"/>
<path d="M280.0 172.0 L283.0 169.2 L286.0 166.4 L289.0 163.6 L292.0 161.0 L295.0 158.4 L298.0 155.9 L301.0 153.4 L304.0 151.0 L307.0 148.7 L310.0 146.4 L313.0 144.2 L316.0 142.1 L319.0 140.0 L322.0 138.0 L325.0 136.0 L328.0 134.1 L331.0 132.2 L334.0 130.4 L337.0 128.6 L340.0 126.9 L343.0 125.3 L346.0 123.6 L349.0 122.1 L352.0 120.5 L355.0 119.1 L358.0 117.6 L361.0 116.2 L364.0 114.9 L367.0 113.5 L370.0 112.3 L373.0 111.0 L376.0 109.8 L379.0 108.6 L382.0 107.5 L385.0 106.4 L388.0 105.3 L391.0 104.2 L394.0 103.2 L397.0 102.2 L400.0 101.2 L403.0 100.3 L406.0 99.4 L409.0 98.5 L412.0 97.6 L415.0 96.7 L418.0 95.9 L421.0 95.0 L424.0 94.2 L427.0 93.4 L430.0 92.7 L433.0 91.9 L436.0 91.1 L439.0 90.4 L442.0 89.6 L445.0 88.9 L448.0 88.2 L451.0 87.5 L454.0 86.8 L457.0 86.0 L460.0 85.3 L463.0 84.6 L466.0 83.9 L469.0 83.2 L472.0 82.5 L475.0 81.8 L478.0 81.0 L481.0 80.3 L484.0 79.6 L487.0 78.8 L490.0 78.0 L493.0 77.3 L496.0 76.5 L499.0 75.7 L502.0 74.9 L505.0 74.0 L508.0 73.2 L511.0 72.3 L513.0 71.7" stroke="#ff0000" stroke-opacity="0.6" stroke-width="1.75" fill="none"/>
<path d="M280.0 183.0 L283.0 180.1 L286.0 177.2 L289.0 174.4 L292.0 171.7 L295.0 169.0 L298.0 166.4 L301.0 163.9 L304.0 161.4 L307.0 158.9 L310.0 156.5 L313.0 154.2 L316.0 151.9 L319.0 149.7 L322.0 147.6 L325.0 145.5 L328.0 143.4 L331.0 141.4 L334.0 139.5 L337.0 137.6 L340.0 135.8 L343.0 134.0 L346.0 132.2 L349.0 130.5 L352.0 128.9 L355.0 127.3 L358.0 125.8 L361.0 124.3 L364.0 122.8 L367.0 121.4 L370.0 120.0 L373.0 118.7 L376.0 117.4 L379.0 116.2 L382.0 115.0 L385.0 113.9 L388.0 112.7 L391.0 111.7 L394.0 110.6 L397.0 109.7 L400.0 108.7 L403.0 107.8 L406.0 106.9 L409.0 106.1 L412.0 105.3 L415.0 104.5 L418.0 103.8 L421.0 103.1 L424.0 102.4 L427.0 101.8 L430.0 101.2 L433.0 100.6 L436.0 100.0 L439.0 99.5 L442.0 99.0 L445.0 98.6 L448.0 98.2 L451.0 97.8 L454.0 97.4 L457.0 97.1 L460.0 96.7 L463.0 96.4 L466.0 96.2 L469.0 95.9 L472.0 95.7 L475.0 95.5 L478.0 95.3 L481.0 95.2 L484.0 95.0 L487.0 94.9 L490.0 94.8 L493.0 94.7 L496.0 94.7 L499.0 94.6 L502.0 94.6 L505.0 94.6 L508.0 94.6 L511.0 94.6 L513.0 94.6" stroke="#ff0000" stroke-opacity="0.6" stroke-width="1.75" fill="none"/>
<path d="M280.0 192.0 L283.0 188.9 L286.0 185.9 L289.0 183.0 L292.0 180.2 L295.0 177.4 L298.0 174.7 L301.0 172.0 L304.0 169.4 L307.0 166.9 L310.0 164.4 L313.0 162.0 L316.0 159.7 L319.0 157.4 L322.0 155.2 L325.0 153.0 L328.0 150.9 L331.0 148.9 L334.0 146.9 L337.0 145.0 L340.0 143.1 L343.0 141.3 L346.0 139.5 L349.0 137.8 L352.0 136.2 L355.0 134.6 L358.0 133.0 L361.0 131.5 L364.0 130.1 L367.0 128.7 L370.0 127.3 L373.0 126.0 L376.0 124.7 L379.0 123.5 L382.0 122.3 L385.0 121.2 L388.0 120.1 L391.0 119.1 L394.0 118.1 L397.0 117.1 L400.0 116.2 L403.0 115.3 L406.0 114.5 L409.0 113.7 L412.0 112.9 L415.0 112.2 L418.0 111.5 L421.0 110.8 L424.0 110.2 L427.0 109.6 L430.0 109.0 L433.0 108.5 L436.0 108.0 L439.0 107.5 L442.0 107.1 L445.0 106.7 L448.0 106.3 L451.0 105.9 L454.0 105.6 L457.0 105.3 L460.0 105.0 L463.0 104.7 L466.0 104.5 L469.0 104.3 L472.0 104.1 L475.0 103.9 L478.0 103.8 L481.0 103.6 L484.0 103.5 L487.0 103.4 L490.0 103.3 L493.0 103.3 L496.0 103.2 L499.0 103.2 L502.0 103.2 L505.0 103.2 L508.0 103.2 L511.0 103.2 L513.0 103.2" stroke="#ff0000" stroke-opacity="0.6" stroke-width="1.75" fill="none"/>
<path d="M359.9 140.7 H366.4 M362.8 133.8 V150.0" stroke="#000" stroke-width="1.3" fill="none"/>
<circle cx="362.8" cy="140.7" r="2.3" fill="#000"/>
<path d="M371.9 153.2 H396.8 M384.7 147.7 V161.0" stroke="#000" stroke-width="1.3" fill="none"/>
<circle cx="384.7" cy="153.2" r="2.3" fill="#000"/>
<path d="M414.2 125.3 H419.8 M417.0 119.5 V132.5" stroke="#000" stroke-width="1.3" fill="none"/>
<circle cx="417.0" cy="125.3" r="2.3" fill="#000"/>
<path d="M449.2 136.6 H458.4 M454.2 134.4 V139.0" stroke="#000" stroke-width="1.3" fill="none"/>
<circle cx="454.2" cy="136.6" r="2.3" fill="#000"/>
<path d="M430.7 180.1 H441.2 M436.1 163.0 V194.5" stroke="#000" stroke-width="1.3" fill="none"/>
<circle cx="436.1" cy="180.1" r="2.3" fill="#000"/>
<path d="M454.7 184.4 H464.5 M459.9 175.7 V193.6" stroke="#000" stroke-width="1.3" fill="none"/>
<circle cx="459.9" cy="184.4" r="2.3" fill="#000"/>
<path d="M340.6 189.9 H351.1 M345.7 181.2 V198.6" stroke="#000" stroke-width="1.3" fill="none"/>
<circle cx="345.7" cy="189.9" r="2.3" fill="#000"/>
<path d="M364.6 194.5 H382.1 M373.8 189.0 V200.0" stroke="#000" stroke-width="1.3" fill="none"/>
<circle cx="373.8" cy="194.5" r="2.3" fill="#000"/>
</g>
<g clip-path="url(#c2)">
<path d="M511.0 201.3 L514.0 199.0 L517.0 196.8 L520.0 194.6 L523.0 192.4 L526.0 190.1 L529.0 187.9 L532.0 185.7 L535.0 183.5 L538.0 181.3 L541.0 179.1 L544.0 177.0 L547.0 174.8 L550.0 172.6 L553.0 170.5 L556.0 168.3 L559.0 166.2 L562.0 164.1 L565.0 162.0 L568.0 159.9 L571.0 157.9 L574.0 155.8 L577.0 153.8 L580.0 151.8 L583.0 149.8 L586.0 147.8 L589.0 145.9 L592.0 143.9 L595.0 142.0 L598.0 140.2 L601.0 138.3 L604.0 136.5 L607.0 134.7 L610.0 132.9 L613.0 131.1 L616.0 129.4 L619.0 127.7 L622.0 126.1 L625.0 124.4 L628.0 122.8 L631.0 121.2 L634.0 119.7 L637.0 118.2 L640.0 116.7 L643.0 115.3 L646.0 113.9 L649.0 112.6 L652.0 111.2 L655.0 110.0 L658.0 108.7 L661.0 107.5 L664.0 106.4 L667.0 105.3 L670.0 104.2 L673.0 103.2 L676.0 102.2 L679.0 101.2 L682.0 100.3 L685.0 99.5 L688.0 98.7 L691.0 98.0 L694.0 97.3 L697.0 96.6 L700.0 96.0 L703.0 95.5 L706.0 95.0 L709.0 94.6 L712.0 94.2 L715.0 93.9 L718.0 93.6 L721.0 93.4 L724.0 93.2 L727.0 93.1 L730.0 93.1 L733.0 93.1 L736.0 93.2 L739.0 93.4 L742.0 93.6 L745.0 93.9" stroke="#000" stroke-width="1.1" fill="none" stroke-opacity="0.85"/>
<path d="M511.0 211.2 L514.0 209.2 L517.0 207.3 L520.0 205.3 L523.0 203.4 L526.0 201.4 L529.0 199.5 L532.0 197.5 L535.0 195.6 L538.0 193.6 L541.0 191.6 L544.0 189.7 L547.0 187.7 L550.0 185.8 L553.0 183.8 L556.0 181.9 L559.0 179.9 L562.0 178.0 L565.0 176.1 L568.0 174.1 L571.0 172.2 L574.0 170.3 L577.0 168.4 L580.0 166.5 L583.0 164.7 L586.0 162.8 L589.0 160.9 L592.0 159.1 L595.0 157.3 L598.0 155.4 L601.0 153.6 L604.0 151.9 L607.0 150.1 L610.0 148.3 L613.0 146.6 L616.0 144.9 L619.0 143.2 L622.0 141.5 L625.0 139.8 L628.0 138.2 L631.0 136.6 L634.0 135.0 L637.0 133.4 L640.0 131.8 L643.0 130.3 L646.0 128.8 L649.0 127.3 L652.0 125.9 L655.0 124.5 L658.0 123.1 L661.0 121.7 L664.0 120.4 L667.0 119.1 L670.0 117.8 L673.0 116.5 L676.0 115.3 L679.0 114.1 L682.0 113.0 L685.0 111.9 L688.0 110.8 L691.0 109.8 L694.0 108.7 L697.0 107.8 L700.0 106.8 L703.0 105.9 L706.0 105.1 L709.0 104.3 L712.0 103.5 L715.0 102.8 L718.0 102.1 L721.0 101.4 L724.0 100.8 L727.0 100.2 L730.0 99.7 L733.0 99.2 L736.0 98.8 L739.0 98.4 L742.0 98.1 L745.0 97.8" stroke="#000" stroke-width="1.1" fill="none" stroke-opacity="0.85"/>
<path d="M520.5 234.9 L523.5 231.3 L526.5 227.9 L529.5 224.5 L532.5 221.2 L535.5 218.0 L538.5 214.8 L541.5 211.7 L544.5 208.6 L547.5 205.6 L550.5 202.7 L553.5 199.8 L556.5 197.0 L559.5 194.3 L562.5 191.6 L565.5 188.9 L568.5 186.3 L571.5 183.8 L574.5 181.3 L577.5 178.9 L580.5 176.6 L583.5 174.3 L586.5 172.0 L589.5 169.8 L592.5 167.7 L595.5 165.6 L598.5 163.5 L601.5 161.5 L604.5 159.6 L607.5 157.7 L610.5 155.9 L613.5 154.1 L616.5 152.3 L619.5 150.6 L622.5 149.0 L625.5 147.3 L628.5 145.8 L631.5 144.3 L634.5 142.8 L637.5 141.3 L640.5 139.9 L643.5 138.6 L646.5 137.3 L649.5 136.0 L652.5 134.8 L655.5 133.6 L658.5 132.4 L661.5 131.3 L664.5 130.2 L667.5 129.2 L670.5 128.2 L673.5 127.2 L676.5 126.3 L679.5 125.4 L682.5 124.5 L685.5 123.7 L688.5 122.9 L691.5 122.1 L694.5 121.4 L697.5 120.6 L700.5 120.0 L703.5 119.3 L706.5 118.7 L709.5 118.1 L712.5 117.5 L715.5 117.0 L718.5 116.5 L721.5 116.0 L724.5 115.5 L727.5 115.1 L730.5 114.7 L733.5 114.3 L736.5 113.9 L739.5 113.5 L742.5 113.2 L745.0 112.9" stroke="#000" stroke-width="1.1" fill="none" stroke-opacity="0.85"/>
<path d="M518.0 235.2 L521.0 231.9 L524.0 228.6 L527.0 225.4 L530.0 222.3 L533.0 219.3 L536.0 216.2 L539.0 213.3 L542.0 210.4 L545.0 207.6 L548.0 204.8 L551.0 202.0 L554.0 199.4 L557.0 196.7 L560.0 194.2 L563.0 191.7 L566.0 189.2 L569.0 186.8 L572.0 184.4 L575.0 182.1 L578.0 179.8 L581.0 177.6 L584.0 175.4 L587.0 173.3 L590.0 171.2 L593.0 169.2 L596.0 167.2 L599.0 165.3 L602.0 163.4 L605.0 161.5 L608.0 159.7 L611.0 158.0 L614.0 156.2 L617.0 154.6 L620.0 152.9 L623.0 151.3 L626.0 149.8 L629.0 148.3 L632.0 146.8 L635.0 145.4 L638.0 144.0 L641.0 142.6 L644.0 141.3 L647.0 140.0 L650.0 138.7 L653.0 137.5 L656.0 136.3 L659.0 135.2 L662.0 134.1 L665.0 133.0 L668.0 131.9 L671.0 130.9 L674.0 129.9 L677.0 129.0 L680.0 128.0 L683.0 127.1 L686.0 126.3 L689.0 125.4 L692.0 124.6 L695.0 123.9 L698.0 123.1 L701.0 122.4 L704.0 121.7 L707.0 121.0 L710.0 120.3 L713.0 119.7 L716.0 119.1 L719.0 118.5 L722.0 118.0 L725.0 117.4 L728.0 116.9 L731.0 116.4 L734.0 115.9 L737.0 115.5 L740.0 115.0 L743.0 114.6 L745.0 114.4" stroke="#000" stroke-width="1.1" fill="none" stroke-opacity="0.85"/>
<path d="M539.4 234.6 L542.4 231.1 L545.4 227.7 L548.4 224.4 L551.4 221.1 L554.4 217.9 L557.4 214.8 L560.4 211.8 L563.4 208.8 L566.4 205.9 L569.4 203.0 L572.4 200.3 L575.4 197.6 L578.4 194.9 L581.4 192.3 L584.4 189.8 L587.4 187.4 L590.4 185.0 L593.4 182.7 L596.4 180.4 L599.4 178.2 L602.4 176.0 L605.4 174.0 L608.4 171.9 L611.4 170.0 L614.4 168.1 L617.4 166.2 L620.4 164.5 L623.4 162.7 L626.4 161.1 L629.4 159.4 L632.4 157.9 L635.4 156.4 L638.4 154.9 L641.4 153.5 L644.4 152.2 L647.4 150.9 L650.4 149.6 L653.4 148.4 L656.4 147.3 L659.4 146.2 L662.4 145.2 L665.4 144.2 L668.4 143.2 L671.4 142.3 L674.4 141.5 L677.4 140.7 L680.4 139.9 L683.4 139.2 L686.4 138.6 L689.4 137.9 L692.4 137.4 L695.4 136.8 L698.4 136.3 L701.4 135.9 L704.4 135.5 L707.4 135.1 L710.4 134.8 L713.4 134.5 L716.4 134.2 L719.4 134.0 L722.4 133.8 L725.4 133.7 L728.4 133.6 L731.4 133.5 L734.4 133.5 L737.4 133.5 L740.4 133.6 L743.4 133.6 L745.0 133.7" stroke="#000" stroke-width="1.1" fill="none" stroke-opacity="0.85"/>
<path d="M511.0 157.9 L514.0 157.4 L517.0 156.8 L520.0 156.3 L523.0 155.7 L526.0 155.1 L529.0 154.4 L532.0 153.8 L535.0 153.1 L538.0 152.4 L541.0 151.6 L544.0 150.9 L547.0 150.1 L550.0 149.4 L553.0 148.6 L556.0 147.8 L559.0 146.9 L562.0 146.1 L565.0 145.3 L568.0 144.4 L571.0 143.5 L574.0 142.7 L577.0 141.8 L580.0 140.9 L583.0 140.0 L586.0 139.1 L589.0 138.2 L592.0 137.2 L595.0 136.3 L598.0 135.4 L601.0 134.5 L604.0 133.6 L607.0 132.6 L610.0 131.7 L613.0 130.8 L616.0 129.9 L619.0 129.0 L622.0 128.1 L625.0 127.2 L628.0 126.3 L631.0 125.4 L634.0 124.6 L637.0 123.7 L640.0 122.9 L643.0 122.0 L646.0 121.2 L649.0 120.4 L652.0 119.6 L655.0 118.8 L658.0 118.1 L661.0 117.3 L664.0 116.6 L667.0 115.9 L670.0 115.2 L673.0 114.5 L676.0 113.9 L679.0 113.3 L682.0 112.7 L685.0 112.1 L688.0 111.5 L691.0 111.0 L694.0 110.5 L697.0 110.1 L700.0 109.6 L703.0 109.2 L706.0 108.9 L709.0 108.5 L712.0 108.2 L715.0 107.9 L718.0 107.7 L721.0 107.5 L724.0 107.3 L727.0 107.2 L730.0 107.1 L733.0 107.1 L736.0 107.1 L739.0 107.1 L742.0 107.2 L745.0 107.3" stroke="#0000ff" stroke-opacity="0.6" stroke-width="1.6" fill="none" stroke-dasharray="4 3"/>
<path d="M511.0 185.5 L514.0 183.7 L517.0 181.9 L520.0 180.1 L523.0 178.4 L526.0 176.6 L529.0 174.8 L532.0 173.1 L535.0 171.4 L538.0 169.7 L541.0 168.0 L544.0 166.3 L547.0 164.6 L550.0 163.0 L553.0 161.3 L556.0 159.7 L559.0 158.1 L562.0 156.5 L565.0 154.9 L568.0 153.3 L571.0 151.8 L574.0 150.2 L577.0 148.7 L580.0 147.1 L583.0 145.6 L586.0 144.1 L589.0 142.6 L592.0 141.1 L595.0 139.7 L598.0 138.2 L601.0 136.8 L604.0 135.3 L607.0 133.9 L610.0 132.5 L613.0 131.1 L616.0 129.7 L619.0 128.3 L622.0 126.9 L625.0 125.5 L628.0 124.2 L631.0 122.8 L634.0 121.5 L637.0 120.2 L640.0 118.9 L643.0 117.6 L646.0 116.3 L649.0 115.0 L652.0 113.7 L655.0 112.4 L658.0 111.1 L661.0 109.9 L664.0 108.6 L667.0 107.4 L670.0 106.2 L673.0 105.0 L676.0 103.7 L679.0 102.5 L682.0 101.3 L685.0 100.1 L688.0 99.0 L691.0 97.8 L694.0 96.6 L697.0 95.4 L700.0 94.3 L703.0 93.1 L706.0 92.0 L709.0 90.9 L712.0 89.7 L715.0 88.6 L718.0 87.5 L721.0 86.4 L724.0 85.3 L727.0 84.2 L730.0 83.1 L733.0 82.0 L736.0 80.9 L739.0 79.8 L742.0 78.7 L745.0 77.7" stroke="#0000ff" stroke-opacity="0.6" stroke-width="1.6" fill="none" stroke-dasharray="4 3"/>
<path d="M511.0 200.8 L514.0 198.8 L517.0 196.8 L520.0 194.8 L523.0 192.8 L526.0 190.8 L529.0 188.8 L532.0 186.8 L535.0 184.9 L538.0 182.9 L541.0 181.0 L544.0 179.1 L547.0 177.1 L550.0 175.2 L553.0 173.3 L556.0 171.5 L559.0 169.6 L562.0 167.8 L565.0 165.9 L568.0 164.1 L571.0 162.3 L574.0 160.6 L577.0 158.8 L580.0 157.1 L583.0 155.4 L586.0 153.7 L589.0 152.0 L592.0 150.4 L595.0 148.7 L598.0 147.1 L601.0 145.6 L604.0 144.0 L607.0 142.5 L610.0 141.0 L613.0 139.5 L616.0 138.0 L619.0 136.6 L622.0 135.2 L625.0 133.9 L628.0 132.5 L631.0 131.2 L634.0 129.9 L637.0 128.7 L640.0 127.5 L643.0 126.3 L646.0 125.2 L649.0 124.1 L652.0 123.0 L655.0 121.9 L658.0 120.9 L661.0 120.0 L664.0 119.0 L667.0 118.1 L670.0 117.3 L673.0 116.4 L676.0 115.7 L679.0 114.9 L682.0 114.2 L685.0 113.6 L688.0 112.9 L691.0 112.4 L694.0 111.8 L697.0 111.3 L700.0 110.9 L703.0 110.5 L706.0 110.1 L709.0 109.8 L712.0 109.6 L715.0 109.4 L718.0 109.2 L721.0 109.1 L724.0 109.0 L727.0 109.0 L730.0 109.0 L733.0 109.1 L736.0 109.2 L739.0 109.4 L742.0 109.6 L745.0 109.9" stroke="#0000ff" stroke-opacity="0.6" stroke-width="1.6" fill="none" stroke-dasharray="4 3"/>
<path d="M511.0 212.4 L514.0 210.3 L517.0 208.2 L520.0 206.1 L523.0 204.0 L526.0 202.0 L529.0 199.9 L532.0 197.9 L535.0 195.9 L538.0 193.9 L541.0 192.0 L544.0 190.0 L547.0 188.1 L550.0 186.2 L553.0 184.3 L556.0 182.4 L559.0 180.5 L562.0 178.7 L565.0 176.9 L568.0 175.1 L571.0 173.3 L574.0 171.5 L577.0 169.8 L580.0 168.1 L583.0 166.4 L586.0 164.7 L589.0 163.1 L592.0 161.4 L595.0 159.8 L598.0 158.3 L601.0 156.7 L604.0 155.2 L607.0 153.7 L610.0 152.2 L613.0 150.7 L616.0 149.3 L619.0 147.9 L622.0 146.5 L625.0 145.2 L628.0 143.9 L631.0 142.6 L634.0 141.3 L637.0 140.1 L640.0 138.8 L643.0 137.7 L646.0 136.5 L649.0 135.4 L652.0 134.3 L655.0 133.2 L658.0 132.2 L661.0 131.2 L664.0 130.2 L667.0 129.3 L670.0 128.4 L673.0 127.5 L676.0 126.6 L679.0 125.8 L682.0 125.0 L685.0 124.3 L688.0 123.6 L691.0 122.9 L694.0 122.3 L697.0 121.7 L700.0 121.1 L703.0 120.5 L706.0 120.0 L709.0 119.6 L712.0 119.1 L715.0 118.8 L718.0 118.4 L721.0 118.1 L724.0 117.8 L727.0 117.6 L730.0 117.4 L733.0 117.2 L736.0 117.1 L739.0 117.0 L742.0 116.9 L745.0 116.9" stroke="#0000ff" stroke-opacity="0.6" stroke-width="1.6" fill="none" stroke-dasharray="4 3"/>
<path d="M522.8 230.0 L525.8 226.5 L528.8 223.1 L531.8 219.8 L534.8 216.5 L537.8 213.3 L540.8 210.2 L543.8 207.1 L546.8 204.1 L549.8 201.2 L552.8 198.3 L555.8 195.5 L558.8 192.7 L561.8 190.0 L564.8 187.4 L567.8 184.8 L570.8 182.3 L573.8 179.9 L576.8 177.5 L579.8 175.2 L582.8 172.9 L585.8 170.7 L588.8 168.5 L591.8 166.4 L594.8 164.3 L597.8 162.3 L600.8 160.4 L603.8 158.5 L606.8 156.7 L609.8 154.9 L612.8 153.2 L615.8 151.5 L618.8 149.9 L621.8 148.3 L624.8 146.8 L627.8 145.3 L630.8 143.9 L633.8 142.5 L636.8 141.2 L639.8 139.9 L642.8 138.7 L645.8 137.5 L648.8 136.3 L651.8 135.3 L654.8 134.2 L657.8 133.2 L660.8 132.3 L663.8 131.4 L666.8 130.5 L669.8 129.7 L672.8 128.9 L675.8 128.1 L678.8 127.4 L681.8 126.8 L684.8 126.2 L687.8 125.6 L690.8 125.1 L693.8 124.6 L696.8 124.1 L699.8 123.7 L702.8 123.3 L705.8 123.0 L708.8 122.7 L711.8 122.4 L714.8 122.2 L717.8 122.0 L720.8 121.8 L723.8 121.7 L726.8 121.6 L729.8 121.5 L732.8 121.5 L735.8 121.5 L738.8 121.5 L741.8 121.6 L744.8 121.7 L745.0 121.7" stroke="#0000ff" stroke-opacity="0.6" stroke-width="1.6" fill="none" stroke-dasharray="4 3"/>
<path d="M526.0 235.1 L529.0 231.4 L532.0 227.7 L535.0 224.2 L538.0 220.7 L541.0 217.3 L544.0 214.0 L547.0 210.8 L550.0 207.6 L553.0 204.6 L556.0 201.6 L559.0 198.7 L562.0 195.9 L565.0 193.1 L568.0 190.4 L571.0 187.8 L574.0 185.3 L577.0 182.8 L580.0 180.5 L583.0 178.1 L586.0 175.9 L589.0 173.7 L592.0 171.6 L595.0 169.6 L598.0 167.6 L601.0 165.7 L604.0 163.8 L607.0 162.0 L610.0 160.3 L613.0 158.7 L616.0 157.0 L619.0 155.5 L622.0 154.0 L625.0 152.6 L628.0 151.2 L631.0 149.9 L634.0 148.6 L637.0 147.4 L640.0 146.3 L643.0 145.2 L646.0 144.1 L649.0 143.1 L652.0 142.2 L655.0 141.2 L658.0 140.4 L661.0 139.6 L664.0 138.8 L667.0 138.1 L670.0 137.4 L673.0 136.7 L676.0 136.1 L679.0 135.6 L682.0 135.1 L685.0 134.6 L688.0 134.1 L691.0 133.7 L694.0 133.3 L697.0 133.0 L700.0 132.7 L703.0 132.4 L706.0 132.2 L709.0 132.0 L712.0 131.8 L715.0 131.6 L718.0 131.5 L721.0 131.4 L724.0 131.4 L727.0 131.3 L730.0 131.3 L733.0 131.3 L736.0 131.3 L739.0 131.4 L742.0 131.4 L745.0 131.5" stroke="#0000ff" stroke-opacity="0.6" stroke-width="1.6" fill="none" stroke-dasharray="4 3"/>
<path d="M511.0 122.5 L514.0 121.5 L517.0 120.5 L520.0 119.4 L523.0 118.4 L526.0 117.3 L529.0 116.2 L532.0 115.1 L535.0 114.0 L538.0 112.9 L541.0 111.7 L544.0 110.6 L547.0 109.4 L550.0 108.3 L553.0 107.1 L556.0 105.9 L559.0 104.7 L562.0 103.5 L565.0 102.3 L568.0 101.1 L571.0 99.9 L574.0 98.7 L577.0 97.4 L580.0 96.2 L583.0 94.9 L586.0 93.7 L589.0 92.4 L592.0 91.2 L595.0 89.9 L598.0 88.7 L601.0 87.4 L604.0 86.1 L607.0 84.9 L610.0 83.6 L613.0 82.3 L616.0 81.1 L619.0 79.8 L622.0 78.6 L625.0 77.3 L628.0 76.0 L631.0 74.8 L634.0 73.5 L637.0 72.3 L640.0 71.0 L643.0 69.8 L646.0 68.6 L649.0 67.3 L652.0 66.1 L655.0 64.9 L658.0 63.7 L661.0 62.5 L664.0 61.3 L667.0 60.1 L670.0 58.9 L673.0 57.8 L676.0 56.6 L679.0 55.5 L682.0 54.3 L685.0 53.2 L688.0 52.1 L691.0 51.0 L694.0 49.9 L697.0 48.8 L700.0 47.8 L703.0 46.7 L706.0 45.7 L709.0 44.7 L712.0 43.7 L715.0 42.7 L718.0 41.7 L721.0 40.8 L724.0 39.8 L727.0 38.9 L730.0 38.0 L733.0 37.1 L736.0 36.3 L739.0 35.5 L742.0 34.6 L745.0 33.8" stroke="#ff0000" stroke-opacity="0.6" stroke-width="1.75" fill="none"/>
<path d="M511.0 128.1 L514.0 127.1 L517.0 126.1 L520.0 125.1 L523.0 124.1 L526.0 123.0 L529.0 121.9 L532.0 120.8 L535.0 119.7 L538.0 118.6 L541.0 117.4 L544.0 116.2 L547.0 115.1 L550.0 113.9 L553.0 112.7 L556.0 111.5 L559.0 110.2 L562.0 109.0 L565.0 107.7 L568.0 106.5 L571.0 105.2 L574.0 103.9 L577.0 102.7 L580.0 101.4 L583.0 100.1 L586.0 98.8 L589.0 97.5 L592.0 96.2 L595.0 94.8 L598.0 93.5 L601.0 92.2 L604.0 90.9 L607.0 89.6 L610.0 88.3 L613.0 86.9 L616.0 85.6 L619.0 84.3 L622.0 83.0 L625.0 81.7 L628.0 80.4 L631.0 79.1 L634.0 77.8 L637.0 76.5 L640.0 75.2 L643.0 73.9 L646.0 72.7 L649.0 71.4 L652.0 70.2 L655.0 68.9 L658.0 67.7 L661.0 66.5 L664.0 65.3 L667.0 64.1 L670.0 62.9 L673.0 61.8 L676.0 60.6 L679.0 59.5 L682.0 58.4 L685.0 57.3 L688.0 56.2 L691.0 55.1 L694.0 54.1 L697.0 53.0 L700.0 52.0 L703.0 51.0 L706.0 50.1 L709.0 49.1 L712.0 48.2 L715.0 47.3 L718.0 46.5 L721.0 45.6 L724.0 44.8 L727.0 44.0 L730.0 43.2 L733.0 42.5 L736.0 41.8 L739.0 41.1 L742.0 40.5 L745.0 39.8" stroke="#ff0000" stroke-opacity="0.6" stroke-width="1.75" fill="none"/>
<path d="M511.0 134.3 L514.0 133.1 L517.0 132.0 L520.0 130.8 L523.0 129.6 L526.0 128.4 L529.0 127.2 L532.0 126.0 L535.0 124.8 L538.0 123.5 L541.0 122.3 L544.0 121.0 L547.0 119.8 L550.0 118.5 L553.0 117.2 L556.0 115.9 L559.0 114.6 L562.0 113.3 L565.0 112.0 L568.0 110.7 L571.0 109.4 L574.0 108.1 L577.0 106.7 L580.0 105.4 L583.0 104.1 L586.0 102.7 L589.0 101.4 L592.0 100.1 L595.0 98.7 L598.0 97.4 L601.0 96.0 L604.0 94.7 L607.0 93.4 L610.0 92.0 L613.0 90.7 L616.0 89.4 L619.0 88.1 L622.0 86.8 L625.0 85.4 L628.0 84.1 L631.0 82.8 L634.0 81.6 L637.0 80.3 L640.0 79.0 L643.0 77.7 L646.0 76.5 L649.0 75.2 L652.0 74.0 L655.0 72.8 L658.0 71.5 L661.0 70.3 L664.0 69.1 L667.0 68.0 L670.0 66.8 L673.0 65.7 L676.0 64.5 L679.0 63.4 L682.0 62.3 L685.0 61.2 L688.0 60.1 L691.0 59.1 L694.0 58.0 L697.0 57.0 L700.0 56.0 L703.0 55.0 L706.0 54.1 L709.0 53.1 L712.0 52.2 L715.0 51.3 L718.0 50.4 L721.0 49.6 L724.0 48.8 L727.0 48.0 L730.0 47.2 L733.0 46.4 L736.0 45.7 L739.0 45.0 L742.0 44.3 L745.0 43.7" stroke="#ff0000" stroke-opacity="0.6" stroke-width="1.75" fill="none"/>
<path d="M511.0 139.7 L514.0 138.5 L517.0 137.2 L520.0 136.0 L523.0 134.7 L526.0 133.4 L529.0 132.1 L532.0 130.8 L535.0 129.5 L538.0 128.2 L541.0 126.9 L544.0 125.6 L547.0 124.3 L550.0 123.0 L553.0 121.6 L556.0 120.3 L559.0 118.9 L562.0 117.6 L565.0 116.2 L568.0 114.9 L571.0 113.5 L574.0 112.2 L577.0 110.8 L580.0 109.4 L583.0 108.1 L586.0 106.7 L589.0 105.4 L592.0 104.0 L595.0 102.6 L598.0 101.3 L601.0 99.9 L604.0 98.6 L607.0 97.3 L610.0 95.9 L613.0 94.6 L616.0 93.2 L619.0 91.9 L622.0 90.6 L625.0 89.3 L628.0 88.0 L631.0 86.7 L634.0 85.4 L637.0 84.1 L640.0 82.8 L643.0 81.6 L646.0 80.3 L649.0 79.1 L652.0 77.9 L655.0 76.6 L658.0 75.4 L661.0 74.2 L664.0 73.0 L667.0 71.9 L670.0 70.7 L673.0 69.6 L676.0 68.4 L679.0 67.3 L682.0 66.2 L685.0 65.2 L688.0 64.1 L691.0 63.1 L694.0 62.0 L697.0 61.0 L700.0 60.0 L703.0 59.0 L706.0 58.1 L709.0 57.2 L712.0 56.2 L715.0 55.4 L718.0 54.5 L721.0 53.6 L724.0 52.8 L727.0 52.0 L730.0 51.2 L733.0 50.5 L736.0 49.7 L739.0 49.0 L742.0 48.4 L745.0 47.7" stroke="#ff0000" stroke-opacity="0.6" stroke-width="1.75" fill="none"/>
<path d="M511.0 143.3 L514.0 142.0 L517.0 140.7 L520.0 139.4 L523.0 138.1 L526.0 136.8 L529.0 135.5 L532.0 134.1 L535.0 132.8 L538.0 131.4 L541.0 130.1 L544.0 128.7 L547.0 127.4 L550.0 126.0 L553.0 124.7 L556.0 123.3 L559.0 121.9 L562.0 120.6 L565.0 119.2 L568.0 117.8 L571.0 116.5 L574.0 115.1 L577.0 113.7 L580.0 112.4 L583.0 111.0 L586.0 109.6 L589.0 108.3 L592.0 106.9 L595.0 105.6 L598.0 104.2 L601.0 102.9 L604.0 101.5 L607.0 100.2 L610.0 98.8 L613.0 97.5 L616.0 96.2 L619.0 94.9 L622.0 93.6 L625.0 92.3 L628.0 91.0 L631.0 89.7 L634.0 88.4 L637.0 87.1 L640.0 85.9 L643.0 84.6 L646.0 83.4 L649.0 82.1 L652.0 80.9 L655.0 79.7 L658.0 78.5 L661.0 77.3 L664.0 76.2 L667.0 75.0 L670.0 73.9 L673.0 72.7 L676.0 71.6 L679.0 70.5 L682.0 69.4 L685.0 68.3 L688.0 67.3 L691.0 66.2 L694.0 65.2 L697.0 64.2 L700.0 63.2 L703.0 62.2 L706.0 61.3 L709.0 60.3 L712.0 59.4 L715.0 58.5 L718.0 57.6 L721.0 56.8 L724.0 55.9 L727.0 55.1 L730.0 54.3 L733.0 53.5 L736.0 52.8 L739.0 52.1 L742.0 51.4 L745.0 50.7" stroke="#ff0000" stroke-opacity="0.6" stroke-width="1.75" fill="none"/>
<path d="M511.0 146.2 L514.0 145.0 L517.0 143.7 L520.0 142.5 L523.0 141.2 L526.0 140.0 L529.0 138.7 L532.0 137.4 L535.0 136.1 L538.0 134.8 L541.0 133.5 L544.0 132.2 L547.0 130.9 L550.0 129.5 L553.0 128.2 L556.0 126.9 L559.0 125.5 L562.0 124.2 L565.0 122.8 L568.0 121.4 L571.0 120.1 L574.0 118.7 L577.0 117.3 L580.0 116.0 L583.0 114.6 L586.0 113.2 L589.0 111.9 L592.0 110.5 L595.0 109.1 L598.0 107.8 L601.0 106.4 L604.0 105.0 L607.0 103.7 L610.0 102.3 L613.0 101.0 L616.0 99.6 L619.0 98.3 L622.0 96.9 L625.0 95.6 L628.0 94.3 L631.0 93.0 L634.0 91.7 L637.0 90.4 L640.0 89.1 L643.0 87.8 L646.0 86.5 L649.0 85.3 L652.0 84.0 L655.0 82.8 L658.0 81.5 L661.0 80.3 L664.0 79.1 L667.0 77.9 L670.0 76.8 L673.0 75.6 L676.0 74.5 L679.0 73.4 L682.0 72.2 L685.0 71.2 L688.0 70.1 L691.0 69.0 L694.0 68.0 L697.0 67.0 L700.0 66.0 L703.0 65.0 L706.0 64.0 L709.0 63.1 L712.0 62.2 L715.0 61.3 L718.0 60.4 L721.0 59.6 L724.0 58.7 L727.0 57.9 L730.0 57.2 L733.0 56.4 L736.0 55.7 L739.0 55.0 L742.0 54.3 L745.0 53.7" stroke="#ff0000" stroke-opacity="0.6" stroke-width="1.75" fill="none"/>
<path d="M511.0 148.9 L514.0 147.7 L517.0 146.6 L520.0 145.4 L523.0 144.2 L526.0 143.0 L529.0 141.7 L532.0 140.5 L535.0 139.2 L538.0 138.0 L541.0 136.7 L544.0 135.4 L547.0 134.1 L550.0 132.8 L553.0 131.5 L556.0 130.2 L559.0 128.8 L562.0 127.5 L565.0 126.2 L568.0 124.8 L571.0 123.5 L574.0 122.1 L577.0 120.7 L580.0 119.4 L583.0 118.0 L586.0 116.7 L589.0 115.3 L592.0 113.9 L595.0 112.5 L598.0 111.2 L601.0 109.8 L604.0 108.4 L607.0 107.1 L610.0 105.7 L613.0 104.4 L616.0 103.0 L619.0 101.6 L622.0 100.3 L625.0 99.0 L628.0 97.6 L631.0 96.3 L634.0 95.0 L637.0 93.7 L640.0 92.4 L643.0 91.1 L646.0 89.8 L649.0 88.5 L652.0 87.2 L655.0 86.0 L658.0 84.8 L661.0 83.5 L664.0 82.3 L667.0 81.1 L670.0 79.9 L673.0 78.8 L676.0 77.6 L679.0 76.5 L682.0 75.3 L685.0 74.2 L688.0 73.1 L691.0 72.1 L694.0 71.0 L697.0 70.0 L700.0 69.0 L703.0 68.0 L706.0 67.0 L709.0 66.1 L712.0 65.2 L715.0 64.3 L718.0 63.4 L721.0 62.5 L724.0 61.7 L727.0 60.9 L730.0 60.1 L733.0 59.4 L736.0 58.7 L739.0 58.0 L742.0 57.3 L745.0 56.7" stroke="#ff0000" stroke-opacity="0.6" stroke-width="1.75" fill="none"/>
<path d="M511.0 152.2 L514.0 151.0 L517.0 149.8 L520.0 148.6 L523.0 147.4 L526.0 146.1 L529.0 144.9 L532.0 143.6 L535.0 142.4 L538.0 141.1 L541.0 139.8 L544.0 138.5 L547.0 137.2 L550.0 135.9 L553.0 134.5 L556.0 133.2 L559.0 131.9 L562.0 130.5 L565.0 129.2 L568.0 127.8 L571.0 126.5 L574.0 125.1 L577.0 123.7 L580.0 122.4 L583.0 121.0 L586.0 119.6 L589.0 118.3 L592.0 116.9 L595.0 115.5 L598.0 114.1 L601.0 112.8 L604.0 111.4 L607.0 110.0 L610.0 108.7 L613.0 107.3 L616.0 106.0 L619.0 104.6 L622.0 103.3 L625.0 101.9 L628.0 100.6 L631.0 99.3 L634.0 98.0 L637.0 96.7 L640.0 95.3 L643.0 94.1 L646.0 92.8 L649.0 91.5 L652.0 90.2 L655.0 89.0 L658.0 87.8 L661.0 86.5 L664.0 85.3 L667.0 84.1 L670.0 82.9 L673.0 81.8 L676.0 80.6 L679.0 79.5 L682.0 78.4 L685.0 77.3 L688.0 76.2 L691.0 75.1 L694.0 74.1 L697.0 73.0 L700.0 72.0 L703.0 71.0 L706.0 70.1 L709.0 69.1 L712.0 68.2 L715.0 67.3 L718.0 66.4 L721.0 65.6 L724.0 64.7 L727.0 63.9 L730.0 63.2 L733.0 62.4 L736.0 61.7 L739.0 61.0 L742.0 60.3 L745.0 59.7" stroke="#ff0000" stroke-opacity="0.6" stroke-width="1.75" fill="none"/>
<path d="M511.0 155.3 L514.0 154.0 L517.0 152.7 L520.0 151.4 L523.0 150.1 L526.0 148.8 L529.0 147.5 L532.0 146.2 L535.0 144.9 L538.0 143.6 L541.0 142.2 L544.0 140.9 L547.0 139.6 L550.0 138.2 L553.0 136.9 L556.0 135.5 L559.0 134.1 L562.0 132.8 L565.0 131.4 L568.0 130.1 L571.0 128.7 L574.0 127.3 L577.0 126.0 L580.0 124.6 L583.0 123.2 L586.0 121.9 L589.0 120.5 L592.0 119.2 L595.0 117.8 L598.0 116.5 L601.0 115.1 L604.0 113.8 L607.0 112.4 L610.0 111.1 L613.0 109.8 L616.0 108.4 L619.0 107.1 L622.0 105.8 L625.0 104.5 L628.0 103.2 L631.0 101.9 L634.0 100.6 L637.0 99.3 L640.0 98.1 L643.0 96.8 L646.0 95.6 L649.0 94.3 L652.0 93.1 L655.0 91.9 L658.0 90.7 L661.0 89.5 L664.0 88.3 L667.0 87.1 L670.0 86.0 L673.0 84.8 L676.0 83.7 L679.0 82.6 L682.0 81.5 L685.0 80.4 L688.0 79.4 L691.0 78.3 L694.0 77.3 L697.0 76.3 L700.0 75.3 L703.0 74.3 L706.0 73.3 L709.0 72.4 L712.0 71.4 L715.0 70.5 L718.0 69.7 L721.0 68.8 L724.0 67.9 L727.0 67.1 L730.0 66.3 L733.0 65.5 L736.0 64.8 L739.0 64.0 L742.0 63.3 L745.0 62.6" stroke="#ff0000" stroke-opacity="0.6" stroke-width="1.75" fill="none"/>
<path d="M511.0 159.2 L514.0 157.8 L517.0 156.4 L520.0 155.0 L523.0 153.7 L526.0 152.3 L529.0 150.9 L532.0 149.5 L535.0 148.1 L538.0 146.7 L541.0 145.3 L544.0 143.9 L547.0 142.5 L550.0 141.1 L553.0 139.7 L556.0 138.3 L559.0 136.9 L562.0 135.5 L565.0 134.1 L568.0 132.7 L571.0 131.3 L574.0 130.0 L577.0 128.6 L580.0 127.2 L583.0 125.8 L586.0 124.5 L589.0 123.1 L592.0 121.7 L595.0 120.4 L598.0 119.0 L601.0 117.7 L604.0 116.3 L607.0 115.0 L610.0 113.7 L613.0 112.3 L616.0 111.0 L619.0 109.7 L622.0 108.4 L625.0 107.1 L628.0 105.9 L631.0 104.6 L634.0 103.3 L637.0 102.1 L640.0 100.8 L643.0 99.6 L646.0 98.3 L649.0 97.1 L652.0 95.9 L655.0 94.7 L658.0 93.6 L661.0 92.4 L664.0 91.2 L667.0 90.1 L670.0 88.9 L673.0 87.8 L676.0 86.7 L679.0 85.6 L682.0 84.5 L685.0 83.5 L688.0 82.4 L691.0 81.4 L694.0 80.4 L697.0 79.4 L700.0 78.4 L703.0 77.4 L706.0 76.5 L709.0 75.5 L712.0 74.6 L715.0 73.7 L718.0 72.8 L721.0 71.9 L724.0 71.1 L727.0 70.2 L730.0 69.4 L733.0 68.6 L736.0 67.9 L739.0 67.1 L742.0 66.4 L745.0 65.7" stroke="#ff0000" stroke-opacity="0.6" stroke-width="1.75" fill="none"/>
<path d="M511.0 163.3 L514.0 161.8 L517.0 160.2 L520.0 158.7 L523.0 157.2 L526.0 155.7 L529.0 154.1 L532.0 152.6 L535.0 151.1 L538.0 149.6 L541.0 148.2 L544.0 146.7 L547.0 145.2 L550.0 143.8 L553.0 142.3 L556.0 140.9 L559.0 139.4 L562.0 138.0 L565.0 136.6 L568.0 135.2 L571.0 133.8 L574.0 132.4 L577.0 131.0 L580.0 129.6 L583.0 128.3 L586.0 126.9 L589.0 125.6 L592.0 124.2 L595.0 122.9 L598.0 121.6 L601.0 120.3 L604.0 119.0 L607.0 117.7 L610.0 116.4 L613.0 115.1 L616.0 113.8 L619.0 112.6 L622.0 111.3 L625.0 110.1 L628.0 108.8 L631.0 107.6 L634.0 106.4 L637.0 105.2 L640.0 104.0 L643.0 102.8 L646.0 101.7 L649.0 100.5 L652.0 99.3 L655.0 98.2 L658.0 97.1 L661.0 95.9 L664.0 94.8 L667.0 93.7 L670.0 92.6 L673.0 91.5 L676.0 90.5 L679.0 89.4 L682.0 88.4 L685.0 87.3 L688.0 86.3 L691.0 85.3 L694.0 84.2 L697.0 83.2 L700.0 82.3 L703.0 81.3 L706.0 80.3 L709.0 79.3 L712.0 78.4 L715.0 77.5 L718.0 76.5 L721.0 75.6 L724.0 74.7 L727.0 73.8 L730.0 72.9 L733.0 72.1 L736.0 71.2 L739.0 70.4 L742.0 69.5 L745.0 68.7" stroke="#ff0000" stroke-opacity="0.6" stroke-width="1.75" fill="none"/>
<path d="M511.0 167.4 L514.0 165.7 L517.0 164.1 L520.0 162.4 L523.0 160.8 L526.0 159.2 L529.0 157.6 L532.0 156.0 L535.0 154.5 L538.0 152.9 L541.0 151.3 L544.0 149.8 L547.0 148.3 L550.0 146.8 L553.0 145.3 L556.0 143.8 L559.0 142.3 L562.0 140.8 L565.0 139.4 L568.0 137.9 L571.0 136.5 L574.0 135.1 L577.0 133.7 L580.0 132.3 L583.0 130.9 L586.0 129.5 L589.0 128.2 L592.0 126.8 L595.0 125.5 L598.0 124.2 L601.0 122.9 L604.0 121.5 L607.0 120.3 L610.0 119.0 L613.0 117.7 L616.0 116.4 L619.0 115.2 L622.0 113.9 L625.0 112.7 L628.0 111.5 L631.0 110.3 L634.0 109.1 L637.0 107.9 L640.0 106.7 L643.0 105.6 L646.0 104.4 L649.0 103.3 L652.0 102.1 L655.0 101.0 L658.0 99.9 L661.0 98.8 L664.0 97.7 L667.0 96.6 L670.0 95.5 L673.0 94.5 L676.0 93.4 L679.0 92.4 L682.0 91.3 L685.0 90.3 L688.0 89.3 L691.0 88.3 L694.0 87.3 L697.0 86.3 L700.0 85.3 L703.0 84.3 L706.0 83.4 L709.0 82.4 L712.0 81.5 L715.0 80.6 L718.0 79.6 L721.0 78.7 L724.0 77.8 L727.0 76.9 L730.0 76.0 L733.0 75.2 L736.0 74.3 L739.0 73.4 L742.0 72.6 L745.0 71.7" stroke="#ff0000" stroke-opacity="0.6" stroke-width="1.75" fill="none"/>
<path d="M511.0 171.4 L514.0 169.7 L517.0 167.9 L520.0 166.2 L523.0 164.4 L526.0 162.7 L529.0 161.1 L532.0 159.4 L535.0 157.7 L538.0 156.1 L541.0 154.5 L544.0 152.9 L547.0 151.3 L550.0 149.7 L553.0 148.2 L556.0 146.6 L559.0 145.1 L562.0 143.6 L565.0 142.1 L568.0 140.6 L571.0 139.2 L574.0 137.7 L577.0 136.3 L580.0 134.9 L583.0 133.5 L586.0 132.1 L589.0 130.7 L592.0 129.3 L595.0 128.0 L598.0 126.7 L601.0 125.3 L604.0 124.0 L607.0 122.7 L610.0 121.5 L613.0 120.2 L616.0 118.9 L619.0 117.7 L622.0 116.5 L625.0 115.3 L628.0 114.1 L631.0 112.9 L634.0 111.7 L637.0 110.5 L640.0 109.4 L643.0 108.2 L646.0 107.1 L649.0 105.9 L652.0 104.8 L655.0 103.7 L658.0 102.6 L661.0 101.6 L664.0 100.5 L667.0 99.4 L670.0 98.4 L673.0 97.3 L676.0 96.3 L679.0 95.3 L682.0 94.3 L685.0 93.2 L688.0 92.2 L691.0 91.3 L694.0 90.3 L697.0 89.3 L700.0 88.3 L703.0 87.4 L706.0 86.4 L709.0 85.5 L712.0 84.6 L715.0 83.6 L718.0 82.7 L721.0 81.8 L724.0 80.9 L727.0 80.0 L730.0 79.1 L733.0 78.2 L736.0 77.4 L739.0 76.5 L742.0 75.6 L745.0 74.8" stroke="#ff0000" stroke-opacity="0.6" stroke-width="1.75" fill="none"/>
<path d="M511.0 193.7 L514.0 190.9 L517.0 188.1 L520.0 185.3 L523.0 182.6 L526.0 179.9 L529.0 177.3 L532.0 174.7 L535.0 172.1 L538.0 169.6 L541.0 167.2 L544.0 164.8 L547.0 162.4 L550.0 160.1 L553.0 157.8 L556.0 155.6 L559.0 153.4 L562.0 151.3 L565.0 149.2 L568.0 147.1 L571.0 145.1 L574.0 143.1 L577.0 141.1 L580.0 139.2 L583.0 137.3 L586.0 135.5 L589.0 133.7 L592.0 131.9 L595.0 130.2 L598.0 128.5 L601.0 126.8 L604.0 125.2 L607.0 123.6 L610.0 122.1 L613.0 120.5 L616.0 119.0 L619.0 117.6 L622.0 116.1 L625.0 114.7 L628.0 113.4 L631.0 112.0 L634.0 110.7 L637.0 109.4 L640.0 108.2 L643.0 106.9 L646.0 105.7 L649.0 104.6 L652.0 103.4 L655.0 102.3 L658.0 101.2 L661.0 100.1 L664.0 99.1 L667.0 98.0 L670.0 97.0 L673.0 96.1 L676.0 95.1 L679.0 94.2 L682.0 93.2 L685.0 92.3 L688.0 91.5 L691.0 90.6 L694.0 89.8 L697.0 88.9 L700.0 88.1 L703.0 87.4 L706.0 86.6 L709.0 85.8 L712.0 85.1 L715.0 84.4 L718.0 83.7 L721.0 83.0 L724.0 82.3 L727.0 81.7 L730.0 81.0 L733.0 80.4 L736.0 79.7 L739.0 79.1 L742.0 78.5 L745.0 77.9" stroke="#ff0000" stroke-opacity="0.6" stroke-width="1.75" fill="none"/>
<path d="M511.0 185.4 L514.0 182.7 L517.0 180.1 L520.0 177.5 L523.0 174.9 L526.0 172.3 L529.0 169.7 L532.0 167.1 L535.0 164.6 L538.0 162.1 L541.0 159.6 L544.0 157.1 L547.0 154.6 L550.0 152.1 L553.0 149.7 L556.0 147.2 L559.0 144.8 L562.0 142.4 L565.0 140.0 L568.0 137.6 L571.0 135.3 L574.0 132.9 L577.0 130.6 L580.0 128.3 L583.0 126.0 L586.0 123.7 L589.0 121.5 L592.0 119.3 L595.0 117.0 L598.0 114.8 L601.0 112.6 L604.0 110.5 L607.0 108.3 L610.0 106.2 L613.0 104.1 L616.0 102.0 L619.0 99.9 L622.0 97.8 L625.0 95.8 L628.0 93.8 L631.0 91.8 L634.0 89.8 L637.0 87.8 L640.0 85.8 L643.0 83.9 L646.0 82.0 L649.0 80.1 L652.0 78.2 L655.0 76.4 L658.0 74.5 L661.0 72.7 L664.0 70.9 L667.0 69.1 L670.0 67.4 L673.0 65.6 L676.0 63.9 L679.0 62.2 L682.0 60.5 L685.0 58.9 L688.0 57.2 L691.0 55.6 L694.0 54.0 L697.0 52.5 L700.0 50.9 L703.0 49.4 L706.0 47.9 L709.0 46.4 L712.0 44.9 L715.0 43.4 L718.0 42.0 L721.0 40.6 L724.0 39.2 L727.0 37.9 L730.0 36.5 L733.0 35.2 L736.0 33.9 L739.0 32.6 L742.0 31.4 L745.0 30.2" stroke="#14bebe" stroke-width="2.6" fill="none" stroke-dasharray="1.8 2.2"/>
<path d="M591.0 140.7 H597.5 M593.9 133.8 V150.0" stroke="#000" stroke-width="1.3" fill="none"/>
<circle cx="593.9" cy="140.7" r="2.3" fill="#000"/>
<path d="M603.0 153.2 H627.9 M615.8 147.7 V161.0" stroke="#000" stroke-width="1.3" fill="none"/>
<circle cx="615.8" cy="153.2" r="2.3" fill="#000"/>
<path d="M645.3 125.3 H650.9 M648.1 119.5 V132.5" stroke="#000" stroke-width="1.3" fill="none"/>
<circle cx="648.1" cy="125.3" r="2.3" fill="#000"/>
<path d="M680.3 136.6 H689.5 M685.3 134.4 V139.0" stroke="#000" stroke-width="1.3" fill="none"/>
<circle cx="685.3" cy="136.6" r="2.3" fill="#000"/>
<path d="M661.8 180.1 H672.3 M667.2 163.0 V194.5" stroke="#000" stroke-width="1.3" fill="none"/>
<circle cx="667.2" cy="180.1" r="2.3" fill="#000"/>
<path d="M685.8 184.4 H695.6 M691.0 175.7 V193.6" stroke="#000" stroke-width="1.3" fill="none"/>
<circle cx="691.0" cy="184.4" r="2.3" fill="#000"/>
<path d="M571.7 189.9 H582.2 M576.8 181.2 V198.6" stroke="#000" stroke-width="1.3" fill="none"/>
<circle cx="576.8" cy="189.9" r="2.3" fill="#000"/>
<path d="M595.7 194.5 H613.2 M604.9 189.0 V200.0" stroke="#000" stroke-width="1.3" fill="none"/>
<circle cx="604.9" cy="194.5" r="2.3" fill="#000"/>
</g>
<path d="M103.0 233.0 V228.5 M103.0 21.2 V25.7 M134.3 233.0 V228.5 M134.3 21.2 V25.7 M156.5 233.0 V228.5 M156.5 21.2 V25.7 M173.7 233.0 V228.5 M173.7 21.2 V25.7 M187.8 233.0 V228.5 M187.8 21.2 V25.7 M199.7 233.0 V228.5 M199.7 21.2 V25.7 M210.0 233.0 V228.5 M210.0 21.2 V25.7 M219.1 233.0 V228.5 M219.1 21.2 V25.7 M227.2 233.0 V226.0 M227.2 21.2 V28.2 M49.5 219.4 H54.0 M280.7 219.4 H276.2 M49.5 207.2 H56.5 M280.7 207.2 H273.7 M49.5 127.1 H54.0 M280.7 127.1 H276.2 M49.5 80.3 H54.0 M280.7 80.3 H276.2 M49.5 47.1 H54.0 M280.7 47.1 H276.2" stroke="#000" stroke-width="1.7" fill="none"/>
<rect x="49.5" y="21.2" width="231.2" height="211.8" fill="none" stroke="#000" stroke-width="2.3"/>
<path d="M334.2 233.0 V228.5 M334.2 21.2 V25.7 M365.5 233.0 V228.5 M365.5 21.2 V25.7 M387.7 233.0 V228.5 M387.7 21.2 V25.7 M404.9 233.0 V228.5 M404.9 21.2 V25.7 M419.0 233.0 V228.5 M419.0 21.2 V25.7 M430.9 233.0 V228.5 M430.9 21.2 V25.7 M441.2 233.0 V228.5 M441.2 21.2 V25.7 M450.3 233.0 V228.5 M450.3 21.2 V25.7 M458.4 233.0 V226.0 M458.4 21.2 V28.2 M280.7 219.4 H285.2 M511.9 219.4 H507.4 M280.7 207.2 H287.7 M511.9 207.2 H504.9 M280.7 127.1 H285.2 M511.9 127.1 H507.4 M280.7 80.3 H285.2 M511.9 80.3 H507.4 M280.7 47.1 H285.2 M511.9 47.1 H507.4" stroke="#000" stroke-width="1.7" fill="none"/>
<rect x="280.7" y="21.2" width="231.2" height="211.8" fill="none" stroke="#000" stroke-width="2.3"/>
<path d="M565.3 233.0 V228.5 M565.3 21.2 V25.7 M596.6 233.0 V228.5 M596.6 21.2 V25.7 M618.8 233.0 V228.5 M618.8 21.2 V25.7 M636.0 233.0 V228.5 M636.0 21.2 V25.7 M650.1 233.0 V228.5 M650.1 21.2 V25.7 M662.0 233.0 V228.5 M662.0 21.2 V25.7 M672.3 233.0 V228.5 M672.3 21.2 V25.7 M681.4 233.0 V228.5 M681.4 21.2 V25.7 M689.5 233.0 V226.0 M689.5 21.2 V28.2 M511.8 219.4 H516.3 M743.0 219.4 H738.5 M511.8 207.2 H518.8 M743.0 207.2 H736.0 M511.8 127.1 H516.3 M743.0 127.1 H738.5 M511.8 80.3 H516.3 M743.0 80.3 H738.5 M511.8 47.1 H516.3 M743.0 47.1 H738.5" stroke="#000" stroke-width="1.7" fill="none"/>
<rect x="511.8" y="21.2" width="231.2" height="211.8" fill="none" stroke="#000" stroke-width="2.3"/>
<text x="36.5" y="250.0" font-size="13.3" font-family="Liberation Sans, sans-serif">10<tspan font-size="9.5" dy="-6">-1</tspan></text>
<text x="215.8" y="250.0" font-size="13.3" font-family="Liberation Sans, sans-serif">10<tspan font-size="9.5" dy="-6">0</tspan></text>
<text x="142.0" y="267.5" font-size="16.0" font-family="Liberation Serif, serif" text-anchor="start" textLength="45.2" lengthAdjust="spacingAndGlyphs" >r (kpc)</text>
<text x="267.7" y="250.0" font-size="13.3" font-family="Liberation Sans, sans-serif">10<tspan font-size="9.5" dy="-6">-1</tspan></text>
<text x="447.0" y="250.0" font-size="13.3" font-family="Liberation Sans, sans-serif">10<tspan font-size="9.5" dy="-6">0</tspan></text>
<text x="373.2" y="267.5" font-size="16.0" font-family="Liberation Serif, serif" text-anchor="start" textLength="45.2" lengthAdjust="spacingAndGlyphs" >r (kpc)</text>
<text x="498.8" y="250.0" font-size="13.3" font-family="Liberation Sans, sans-serif">10<tspan font-size="9.5" dy="-6">-1</tspan></text>
<text x="678.1" y="250.0" font-size="13.3" font-family="Liberation Sans, sans-serif">10<tspan font-size="9.5" dy="-6">0</tspan></text>
<text x="604.3" y="267.5" font-size="16.0" font-family="Liberation Serif, serif" text-anchor="start" textLength="45.2" lengthAdjust="spacingAndGlyphs" >r (kpc)</text>
<text x="20.5" y="211.6" font-size="13.3" font-family="Liberation Sans, sans-serif">10<tspan font-size="9.5" dy="-6">1</tspan></text>
<text x="60.8" y="42.6" font-size="14.0" font-family="Liberation Serif, serif" text-anchor="start" >SMFs : 5</text>
<text x="70.0" y="63.4" font-size="14.0" font-family="Liberation Serif, serif" text-anchor="start" >MFs : 10</text>
<text x="216.1" y="217.6" font-size="14.5" font-family="Liberation Serif, serif" text-anchor="start" textLength="45.5" lengthAdjust="spacingAndGlyphs" >Cat−19</text>
<text x="292.0" y="42.6" font-size="14.0" font-family="Liberation Serif, serif" text-anchor="start" >SMFs : 8</text>
<text x="301.2" y="63.4" font-size="14.0" font-family="Liberation Serif, serif" text-anchor="start" >MFs : 11</text>
<text x="447.3" y="217.6" font-size="14.5" font-family="Liberation Serif, serif" text-anchor="start" textLength="45.5" lengthAdjust="spacingAndGlyphs" >Cat−13</text>
<text x="523.1" y="42.6" font-size="14.0" font-family="Liberation Serif, serif" text-anchor="start" >SMFs : 14</text>
<text x="532.3" y="63.4" font-size="14.0" font-family="Liberation Serif, serif" text-anchor="start" >MFs : 21</text>
<text x="678.4" y="217.6" font-size="14.5" font-family="Liberation Serif, serif" text-anchor="start" textLength="45.5" lengthAdjust="spacingAndGlyphs" >Cat−18</text>
<g transform="translate(12.2,167.7) rotate(-90)"><text x="0" y="0" font-size="16" font-family="Liberation Serif, serif" textLength="11.3" lengthAdjust="spacingAndGlyphs">V</text><text x="11.2" y="5.0" font-size="12" font-family="Liberation Serif, serif" textLength="18.2" lengthAdjust="spacingAndGlyphs">circ</text><text x="33.8" y="0" font-size="16" font-family="Liberation Serif, serif" textLength="46.4" lengthAdjust="spacingAndGlyphs">(km/s)</text></g>
<path d="M113.4 5 H133.8" stroke="#000" stroke-opacity="0.62" stroke-width="2"/>
<text x="148.0" y="9.8" font-size="14.0" font-family="Liberation Serif, serif" text-anchor="start" textLength="38.0" lengthAdjust="spacingAndGlyphs" >passed</text>
<path d="M217.3 5 H237.8" stroke="#ff0000" stroke-opacity="0.5" stroke-width="2"/>
<text x="251.6" y="9.8" font-size="14.0" font-family="Liberation Serif, serif" text-anchor="start" textLength="128.0" lengthAdjust="spacingAndGlyphs" >strong massive failure</text>
<path d="M410 5 H430.5" stroke="#0000ff" stroke-opacity="0.6" stroke-width="2" stroke-dasharray="3.9 3"/>
<text x="444.5" y="9.8" font-size="14.0" font-family="Liberation Serif, serif" text-anchor="start" textLength="86.5" lengthAdjust="spacingAndGlyphs" >massive failure</text>
<path d="M562 5 H581" stroke="#14bebe" stroke-width="2.6" stroke-dasharray="1.8 2.2"/>
<text x="596.0" y="9.8" font-size="14.0" font-family="Liberation Serif, serif" text-anchor="start" textLength="86.5" lengthAdjust="spacingAndGlyphs" >LMC analogue</text>
</svg></body></html>
